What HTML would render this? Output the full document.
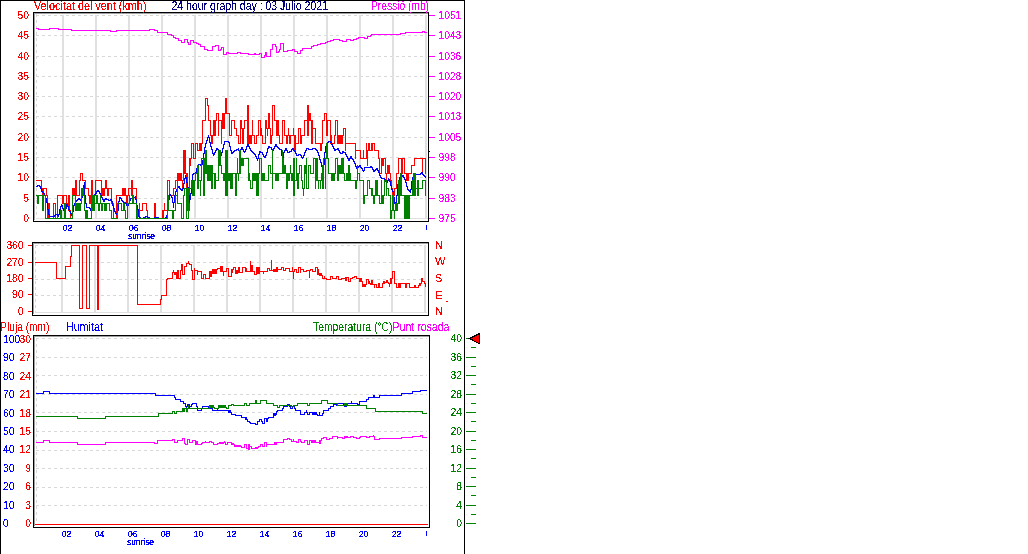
<!DOCTYPE html>
<html><head><meta charset="utf-8"><style>
html,body{margin:0;padding:0;background:#fff;}
svg{display:block;}
text{font-family:"Liberation Sans",sans-serif;}
</style></head><body>
<svg width="1028" height="554" viewBox="0 0 1028 554" shape-rendering="crispEdges">
<defs><filter id="crisp" x="0" y="0" width="1" height="1" color-interpolation-filters="sRGB"><feComponentTransfer><feFuncA type="discrete" tableValues="0 1"/></feComponentTransfer></filter></defs>
<rect x="0" y="0" width="1028" height="554" fill="#fff"/>
<rect x="0" y="0" width="465" height="1" fill="#000000"/>
<rect x="0" y="0" width="1" height="554" fill="#000000"/>
<rect x="464" y="0" width="1" height="554" fill="#000000"/>
<line x1="36" y1="15.5" x2="427" y2="15.5" stroke="#d8d8d8" stroke-width="1" stroke-dasharray="3 3"/>
<line x1="36" y1="35.5" x2="427" y2="35.5" stroke="#d8d8d8" stroke-width="1" stroke-dasharray="3 3"/>
<line x1="36" y1="56.5" x2="427" y2="56.5" stroke="#d8d8d8" stroke-width="1" stroke-dasharray="3 3"/>
<line x1="36" y1="76.5" x2="427" y2="76.5" stroke="#d8d8d8" stroke-width="1" stroke-dasharray="3 3"/>
<line x1="36" y1="96.5" x2="427" y2="96.5" stroke="#d8d8d8" stroke-width="1" stroke-dasharray="3 3"/>
<line x1="36" y1="116.5" x2="427" y2="116.5" stroke="#d8d8d8" stroke-width="1" stroke-dasharray="3 3"/>
<line x1="36" y1="137.5" x2="427" y2="137.5" stroke="#d8d8d8" stroke-width="1" stroke-dasharray="3 3"/>
<line x1="36" y1="157.5" x2="427" y2="157.5" stroke="#d8d8d8" stroke-width="1" stroke-dasharray="3 3"/>
<line x1="36" y1="177.5" x2="427" y2="177.5" stroke="#d8d8d8" stroke-width="1" stroke-dasharray="3 3"/>
<line x1="36" y1="198.5" x2="427" y2="198.5" stroke="#d8d8d8" stroke-width="1" stroke-dasharray="3 3"/>
<rect x="36" y="218" width="392" height="1" fill="#e0e0e0"/>
<line x1="36.5" y1="14" x2="36.5" y2="218" stroke="#d8d8d8" stroke-width="1" stroke-dasharray="3 3"/>
<rect x="62" y="15" width="2" height="203" fill="#e0e0e0"/>
<rect x="95" y="15" width="2" height="203" fill="#e0e0e0"/>
<rect x="128" y="15" width="2" height="203" fill="#e0e0e0"/>
<rect x="161" y="15" width="2" height="203" fill="#e0e0e0"/>
<rect x="194" y="15" width="2" height="203" fill="#e0e0e0"/>
<rect x="227" y="15" width="2" height="203" fill="#e0e0e0"/>
<rect x="260" y="15" width="2" height="203" fill="#e0e0e0"/>
<rect x="293" y="15" width="2" height="203" fill="#e0e0e0"/>
<rect x="326" y="15" width="2" height="203" fill="#e0e0e0"/>
<rect x="359" y="15" width="2" height="203" fill="#e0e0e0"/>
<rect x="392" y="15" width="2" height="203" fill="#e0e0e0"/>
<rect x="425" y="15" width="2" height="203" fill="#e0e0e0"/>
<rect x="36" y="28" width="1" height="1" fill="#ff00ff"/>
<rect x="37" y="28" width="1" height="1" fill="#ff00ff"/>
<rect x="38" y="28" width="1" height="2" fill="#ff00ff"/>
<rect x="39" y="29" width="1" height="1" fill="#ff00ff"/>
<rect x="40" y="29" width="1" height="1" fill="#ff00ff"/>
<rect x="41" y="29" width="1" height="1" fill="#ff00ff"/>
<rect x="42" y="29" width="1" height="1" fill="#ff00ff"/>
<rect x="43" y="29" width="1" height="1" fill="#ff00ff"/>
<rect x="44" y="29" width="1" height="1" fill="#ff00ff"/>
<rect x="45" y="29" width="1" height="1" fill="#ff00ff"/>
<rect x="46" y="29" width="1" height="1" fill="#ff00ff"/>
<rect x="47" y="29" width="1" height="1" fill="#ff00ff"/>
<rect x="48" y="29" width="1" height="1" fill="#ff00ff"/>
<rect x="49" y="28" width="1" height="2" fill="#ff00ff"/>
<rect x="50" y="28" width="1" height="1" fill="#ff00ff"/>
<rect x="51" y="28" width="1" height="1" fill="#ff00ff"/>
<rect x="52" y="28" width="1" height="1" fill="#ff00ff"/>
<rect x="53" y="28" width="1" height="1" fill="#ff00ff"/>
<rect x="54" y="28" width="1" height="1" fill="#ff00ff"/>
<rect x="55" y="28" width="1" height="1" fill="#ff00ff"/>
<rect x="56" y="28" width="1" height="1" fill="#ff00ff"/>
<rect x="57" y="28" width="1" height="1" fill="#ff00ff"/>
<rect x="58" y="28" width="1" height="2" fill="#ff00ff"/>
<rect x="59" y="29" width="1" height="1" fill="#ff00ff"/>
<rect x="60" y="29" width="1" height="1" fill="#ff00ff"/>
<rect x="61" y="29" width="1" height="1" fill="#ff00ff"/>
<rect x="62" y="29" width="1" height="1" fill="#ff00ff"/>
<rect x="63" y="29" width="1" height="1" fill="#ff00ff"/>
<rect x="64" y="29" width="1" height="1" fill="#ff00ff"/>
<rect x="65" y="29" width="1" height="1" fill="#ff00ff"/>
<rect x="66" y="29" width="1" height="1" fill="#ff00ff"/>
<rect x="67" y="29" width="1" height="1" fill="#ff00ff"/>
<rect x="68" y="29" width="1" height="1" fill="#ff00ff"/>
<rect x="69" y="29" width="1" height="1" fill="#ff00ff"/>
<rect x="70" y="29" width="1" height="1" fill="#ff00ff"/>
<rect x="71" y="29" width="1" height="2" fill="#ff00ff"/>
<rect x="72" y="30" width="1" height="1" fill="#ff00ff"/>
<rect x="73" y="30" width="1" height="1" fill="#ff00ff"/>
<rect x="74" y="30" width="1" height="1" fill="#ff00ff"/>
<rect x="75" y="30" width="1" height="1" fill="#ff00ff"/>
<rect x="76" y="30" width="1" height="1" fill="#ff00ff"/>
<rect x="77" y="30" width="1" height="1" fill="#ff00ff"/>
<rect x="78" y="30" width="1" height="1" fill="#ff00ff"/>
<rect x="79" y="30" width="1" height="1" fill="#ff00ff"/>
<rect x="80" y="30" width="1" height="1" fill="#ff00ff"/>
<rect x="81" y="30" width="1" height="1" fill="#ff00ff"/>
<rect x="82" y="30" width="1" height="1" fill="#ff00ff"/>
<rect x="83" y="30" width="1" height="1" fill="#ff00ff"/>
<rect x="84" y="30" width="1" height="1" fill="#ff00ff"/>
<rect x="85" y="30" width="1" height="1" fill="#ff00ff"/>
<rect x="86" y="30" width="1" height="1" fill="#ff00ff"/>
<rect x="87" y="30" width="1" height="1" fill="#ff00ff"/>
<rect x="88" y="30" width="1" height="1" fill="#ff00ff"/>
<rect x="89" y="30" width="1" height="1" fill="#ff00ff"/>
<rect x="90" y="30" width="1" height="1" fill="#ff00ff"/>
<rect x="91" y="30" width="1" height="1" fill="#ff00ff"/>
<rect x="92" y="30" width="1" height="1" fill="#ff00ff"/>
<rect x="93" y="30" width="1" height="1" fill="#ff00ff"/>
<rect x="94" y="30" width="1" height="1" fill="#ff00ff"/>
<rect x="95" y="30" width="1" height="1" fill="#ff00ff"/>
<rect x="96" y="30" width="1" height="1" fill="#ff00ff"/>
<rect x="97" y="30" width="1" height="1" fill="#ff00ff"/>
<rect x="98" y="30" width="1" height="1" fill="#ff00ff"/>
<rect x="99" y="30" width="1" height="1" fill="#ff00ff"/>
<rect x="100" y="30" width="1" height="1" fill="#ff00ff"/>
<rect x="101" y="30" width="1" height="1" fill="#ff00ff"/>
<rect x="102" y="30" width="1" height="1" fill="#ff00ff"/>
<rect x="103" y="30" width="1" height="1" fill="#ff00ff"/>
<rect x="104" y="30" width="1" height="1" fill="#ff00ff"/>
<rect x="105" y="30" width="1" height="1" fill="#ff00ff"/>
<rect x="106" y="30" width="1" height="1" fill="#ff00ff"/>
<rect x="107" y="30" width="1" height="1" fill="#ff00ff"/>
<rect x="108" y="30" width="1" height="1" fill="#ff00ff"/>
<rect x="109" y="30" width="1" height="1" fill="#ff00ff"/>
<rect x="110" y="30" width="1" height="2" fill="#ff00ff"/>
<rect x="111" y="31" width="1" height="1" fill="#ff00ff"/>
<rect x="112" y="31" width="1" height="1" fill="#ff00ff"/>
<rect x="113" y="31" width="1" height="1" fill="#ff00ff"/>
<rect x="114" y="31" width="1" height="1" fill="#ff00ff"/>
<rect x="115" y="31" width="1" height="1" fill="#ff00ff"/>
<rect x="116" y="30" width="1" height="2" fill="#ff00ff"/>
<rect x="117" y="30" width="1" height="1" fill="#ff00ff"/>
<rect x="118" y="30" width="1" height="1" fill="#ff00ff"/>
<rect x="119" y="30" width="1" height="1" fill="#ff00ff"/>
<rect x="120" y="30" width="1" height="1" fill="#ff00ff"/>
<rect x="121" y="30" width="1" height="1" fill="#ff00ff"/>
<rect x="122" y="30" width="1" height="1" fill="#ff00ff"/>
<rect x="123" y="30" width="1" height="1" fill="#ff00ff"/>
<rect x="124" y="30" width="1" height="1" fill="#ff00ff"/>
<rect x="125" y="30" width="1" height="1" fill="#ff00ff"/>
<rect x="126" y="30" width="1" height="1" fill="#ff00ff"/>
<rect x="127" y="30" width="1" height="1" fill="#ff00ff"/>
<rect x="128" y="30" width="1" height="1" fill="#ff00ff"/>
<rect x="129" y="30" width="1" height="1" fill="#ff00ff"/>
<rect x="130" y="30" width="1" height="1" fill="#ff00ff"/>
<rect x="131" y="30" width="1" height="1" fill="#ff00ff"/>
<rect x="132" y="30" width="1" height="1" fill="#ff00ff"/>
<rect x="133" y="30" width="1" height="1" fill="#ff00ff"/>
<rect x="134" y="30" width="1" height="1" fill="#ff00ff"/>
<rect x="135" y="30" width="1" height="1" fill="#ff00ff"/>
<rect x="136" y="30" width="1" height="1" fill="#ff00ff"/>
<rect x="137" y="30" width="1" height="1" fill="#ff00ff"/>
<rect x="138" y="30" width="1" height="1" fill="#ff00ff"/>
<rect x="139" y="30" width="1" height="1" fill="#ff00ff"/>
<rect x="140" y="30" width="1" height="1" fill="#ff00ff"/>
<rect x="141" y="30" width="1" height="1" fill="#ff00ff"/>
<rect x="142" y="30" width="1" height="1" fill="#ff00ff"/>
<rect x="143" y="30" width="1" height="1" fill="#ff00ff"/>
<rect x="144" y="30" width="1" height="1" fill="#ff00ff"/>
<rect x="145" y="30" width="1" height="1" fill="#ff00ff"/>
<rect x="146" y="30" width="1" height="1" fill="#ff00ff"/>
<rect x="147" y="30" width="1" height="1" fill="#ff00ff"/>
<rect x="148" y="30" width="1" height="1" fill="#ff00ff"/>
<rect x="149" y="29" width="1" height="2" fill="#ff00ff"/>
<rect x="150" y="29" width="1" height="1" fill="#ff00ff"/>
<rect x="151" y="29" width="1" height="1" fill="#ff00ff"/>
<rect x="152" y="29" width="1" height="1" fill="#ff00ff"/>
<rect x="153" y="29" width="1" height="1" fill="#ff00ff"/>
<rect x="154" y="29" width="1" height="2" fill="#ff00ff"/>
<rect x="155" y="30" width="1" height="1" fill="#ff00ff"/>
<rect x="156" y="30" width="1" height="1" fill="#ff00ff"/>
<rect x="157" y="30" width="1" height="3" fill="#ff00ff"/>
<rect x="158" y="32" width="1" height="1" fill="#ff00ff"/>
<rect x="159" y="32" width="1" height="1" fill="#ff00ff"/>
<rect x="160" y="32" width="1" height="1" fill="#ff00ff"/>
<rect x="161" y="32" width="1" height="1" fill="#ff00ff"/>
<rect x="162" y="32" width="1" height="1" fill="#ff00ff"/>
<rect x="163" y="32" width="1" height="1" fill="#ff00ff"/>
<rect x="164" y="32" width="1" height="1" fill="#ff00ff"/>
<rect x="165" y="32" width="1" height="1" fill="#ff00ff"/>
<rect x="166" y="32" width="1" height="1" fill="#ff00ff"/>
<rect x="167" y="32" width="1" height="3" fill="#ff00ff"/>
<rect x="168" y="34" width="1" height="1" fill="#ff00ff"/>
<rect x="169" y="34" width="1" height="1" fill="#ff00ff"/>
<rect x="170" y="34" width="1" height="1" fill="#ff00ff"/>
<rect x="171" y="34" width="1" height="2" fill="#ff00ff"/>
<rect x="172" y="35" width="1" height="1" fill="#ff00ff"/>
<rect x="173" y="35" width="1" height="3" fill="#ff00ff"/>
<rect x="174" y="37" width="1" height="1" fill="#ff00ff"/>
<rect x="175" y="37" width="1" height="2" fill="#ff00ff"/>
<rect x="176" y="38" width="1" height="1" fill="#ff00ff"/>
<rect x="177" y="38" width="1" height="1" fill="#ff00ff"/>
<rect x="178" y="38" width="1" height="3" fill="#ff00ff"/>
<rect x="179" y="40" width="1" height="1" fill="#ff00ff"/>
<rect x="180" y="40" width="1" height="1" fill="#ff00ff"/>
<rect x="181" y="40" width="1" height="3" fill="#ff00ff"/>
<rect x="182" y="42" width="1" height="1" fill="#ff00ff"/>
<rect x="183" y="42" width="1" height="1" fill="#ff00ff"/>
<rect x="184" y="39" width="1" height="4" fill="#ff00ff"/>
<rect x="185" y="39" width="1" height="1" fill="#ff00ff"/>
<rect x="186" y="39" width="1" height="1" fill="#ff00ff"/>
<rect x="187" y="39" width="1" height="4" fill="#ff00ff"/>
<rect x="188" y="42" width="1" height="3" fill="#ff00ff"/>
<rect x="189" y="44" width="1" height="1" fill="#ff00ff"/>
<rect x="190" y="40" width="1" height="5" fill="#ff00ff"/>
<rect x="191" y="40" width="1" height="1" fill="#ff00ff"/>
<rect x="192" y="40" width="1" height="1" fill="#ff00ff"/>
<rect x="193" y="40" width="1" height="3" fill="#ff00ff"/>
<rect x="194" y="42" width="1" height="1" fill="#ff00ff"/>
<rect x="195" y="42" width="1" height="1" fill="#ff00ff"/>
<rect x="196" y="42" width="1" height="2" fill="#ff00ff"/>
<rect x="197" y="43" width="1" height="1" fill="#ff00ff"/>
<rect x="198" y="43" width="1" height="2" fill="#ff00ff"/>
<rect x="199" y="44" width="1" height="1" fill="#ff00ff"/>
<rect x="200" y="44" width="1" height="3" fill="#ff00ff"/>
<rect x="201" y="46" width="1" height="1" fill="#ff00ff"/>
<rect x="202" y="46" width="1" height="1" fill="#ff00ff"/>
<rect x="203" y="46" width="1" height="1" fill="#ff00ff"/>
<rect x="204" y="46" width="1" height="4" fill="#ff00ff"/>
<rect x="205" y="49" width="1" height="1" fill="#ff00ff"/>
<rect x="206" y="49" width="1" height="1" fill="#ff00ff"/>
<rect x="207" y="49" width="1" height="2" fill="#ff00ff"/>
<rect x="208" y="50" width="1" height="1" fill="#ff00ff"/>
<rect x="209" y="50" width="1" height="1" fill="#ff00ff"/>
<rect x="210" y="50" width="1" height="1" fill="#ff00ff"/>
<rect x="211" y="50" width="1" height="1" fill="#ff00ff"/>
<rect x="212" y="46" width="1" height="5" fill="#ff00ff"/>
<rect x="213" y="46" width="1" height="1" fill="#ff00ff"/>
<rect x="214" y="46" width="1" height="1" fill="#ff00ff"/>
<rect x="215" y="45" width="1" height="2" fill="#ff00ff"/>
<rect x="216" y="45" width="1" height="1" fill="#ff00ff"/>
<rect x="217" y="45" width="1" height="1" fill="#ff00ff"/>
<rect x="218" y="45" width="1" height="6" fill="#ff00ff"/>
<rect x="219" y="50" width="1" height="1" fill="#ff00ff"/>
<rect x="220" y="49" width="1" height="2" fill="#ff00ff"/>
<rect x="221" y="47" width="1" height="3" fill="#ff00ff"/>
<rect x="222" y="47" width="1" height="1" fill="#ff00ff"/>
<rect x="223" y="47" width="1" height="8" fill="#ff00ff"/>
<rect x="224" y="54" width="1" height="1" fill="#ff00ff"/>
<rect x="225" y="54" width="1" height="1" fill="#ff00ff"/>
<rect x="226" y="52" width="1" height="3" fill="#ff00ff"/>
<rect x="227" y="52" width="1" height="1" fill="#ff00ff"/>
<rect x="228" y="52" width="1" height="2" fill="#ff00ff"/>
<rect x="229" y="53" width="1" height="1" fill="#ff00ff"/>
<rect x="230" y="53" width="1" height="1" fill="#ff00ff"/>
<rect x="231" y="53" width="1" height="1" fill="#ff00ff"/>
<rect x="232" y="53" width="1" height="1" fill="#ff00ff"/>
<rect x="233" y="53" width="1" height="1" fill="#ff00ff"/>
<rect x="234" y="53" width="1" height="1" fill="#ff00ff"/>
<rect x="235" y="53" width="1" height="1" fill="#ff00ff"/>
<rect x="236" y="53" width="1" height="1" fill="#ff00ff"/>
<rect x="237" y="52" width="1" height="2" fill="#ff00ff"/>
<rect x="238" y="52" width="1" height="1" fill="#ff00ff"/>
<rect x="239" y="52" width="1" height="1" fill="#ff00ff"/>
<rect x="240" y="52" width="1" height="2" fill="#ff00ff"/>
<rect x="241" y="53" width="1" height="1" fill="#ff00ff"/>
<rect x="242" y="53" width="1" height="1" fill="#ff00ff"/>
<rect x="243" y="53" width="1" height="1" fill="#ff00ff"/>
<rect x="244" y="53" width="1" height="1" fill="#ff00ff"/>
<rect x="245" y="53" width="1" height="1" fill="#ff00ff"/>
<rect x="246" y="53" width="1" height="1" fill="#ff00ff"/>
<rect x="247" y="53" width="1" height="1" fill="#ff00ff"/>
<rect x="248" y="53" width="1" height="2" fill="#ff00ff"/>
<rect x="249" y="54" width="1" height="1" fill="#ff00ff"/>
<rect x="250" y="54" width="1" height="1" fill="#ff00ff"/>
<rect x="251" y="54" width="1" height="1" fill="#ff00ff"/>
<rect x="252" y="54" width="1" height="1" fill="#ff00ff"/>
<rect x="253" y="54" width="1" height="1" fill="#ff00ff"/>
<rect x="254" y="53" width="1" height="2" fill="#ff00ff"/>
<rect x="255" y="53" width="1" height="2" fill="#ff00ff"/>
<rect x="256" y="54" width="1" height="1" fill="#ff00ff"/>
<rect x="257" y="54" width="1" height="1" fill="#ff00ff"/>
<rect x="258" y="54" width="1" height="1" fill="#ff00ff"/>
<rect x="259" y="53" width="1" height="2" fill="#ff00ff"/>
<rect x="260" y="53" width="1" height="1" fill="#ff00ff"/>
<rect x="261" y="53" width="1" height="5" fill="#ff00ff"/>
<rect x="262" y="57" width="1" height="1" fill="#ff00ff"/>
<rect x="263" y="57" width="1" height="1" fill="#ff00ff"/>
<rect x="264" y="55" width="1" height="3" fill="#ff00ff"/>
<rect x="265" y="52" width="1" height="4" fill="#ff00ff"/>
<rect x="266" y="52" width="1" height="5" fill="#ff00ff"/>
<rect x="267" y="56" width="1" height="1" fill="#ff00ff"/>
<rect x="268" y="56" width="1" height="1" fill="#ff00ff"/>
<rect x="269" y="56" width="1" height="1" fill="#ff00ff"/>
<rect x="270" y="49" width="1" height="8" fill="#ff00ff"/>
<rect x="271" y="49" width="1" height="1" fill="#ff00ff"/>
<rect x="272" y="44" width="1" height="6" fill="#ff00ff"/>
<rect x="273" y="44" width="1" height="1" fill="#ff00ff"/>
<rect x="274" y="44" width="1" height="1" fill="#ff00ff"/>
<rect x="275" y="44" width="1" height="3" fill="#ff00ff"/>
<rect x="276" y="46" width="1" height="7" fill="#ff00ff"/>
<rect x="277" y="52" width="1" height="1" fill="#ff00ff"/>
<rect x="278" y="51" width="1" height="2" fill="#ff00ff"/>
<rect x="279" y="49" width="1" height="3" fill="#ff00ff"/>
<rect x="280" y="43" width="1" height="7" fill="#ff00ff"/>
<rect x="281" y="43" width="1" height="1" fill="#ff00ff"/>
<rect x="282" y="43" width="1" height="1" fill="#ff00ff"/>
<rect x="283" y="43" width="1" height="9" fill="#ff00ff"/>
<rect x="284" y="51" width="1" height="1" fill="#ff00ff"/>
<rect x="285" y="51" width="1" height="1" fill="#ff00ff"/>
<rect x="286" y="51" width="1" height="1" fill="#ff00ff"/>
<rect x="287" y="50" width="1" height="2" fill="#ff00ff"/>
<rect x="288" y="50" width="1" height="1" fill="#ff00ff"/>
<rect x="289" y="50" width="1" height="1" fill="#ff00ff"/>
<rect x="290" y="50" width="1" height="1" fill="#ff00ff"/>
<rect x="291" y="50" width="1" height="1" fill="#ff00ff"/>
<rect x="292" y="49" width="1" height="2" fill="#ff00ff"/>
<rect x="293" y="49" width="1" height="1" fill="#ff00ff"/>
<rect x="294" y="49" width="1" height="3" fill="#ff00ff"/>
<rect x="295" y="51" width="1" height="1" fill="#ff00ff"/>
<rect x="296" y="51" width="1" height="1" fill="#ff00ff"/>
<rect x="297" y="51" width="1" height="3" fill="#ff00ff"/>
<rect x="298" y="53" width="1" height="1" fill="#ff00ff"/>
<rect x="299" y="53" width="1" height="1" fill="#ff00ff"/>
<rect x="300" y="50" width="1" height="4" fill="#ff00ff"/>
<rect x="301" y="50" width="1" height="1" fill="#ff00ff"/>
<rect x="302" y="48" width="1" height="3" fill="#ff00ff"/>
<rect x="303" y="48" width="1" height="1" fill="#ff00ff"/>
<rect x="304" y="48" width="1" height="1" fill="#ff00ff"/>
<rect x="305" y="48" width="1" height="1" fill="#ff00ff"/>
<rect x="306" y="48" width="1" height="1" fill="#ff00ff"/>
<rect x="307" y="48" width="1" height="1" fill="#ff00ff"/>
<rect x="308" y="48" width="1" height="1" fill="#ff00ff"/>
<rect x="309" y="48" width="1" height="1" fill="#ff00ff"/>
<rect x="310" y="48" width="1" height="1" fill="#ff00ff"/>
<rect x="311" y="46" width="1" height="3" fill="#ff00ff"/>
<rect x="312" y="46" width="1" height="1" fill="#ff00ff"/>
<rect x="313" y="45" width="1" height="2" fill="#ff00ff"/>
<rect x="314" y="45" width="1" height="1" fill="#ff00ff"/>
<rect x="315" y="45" width="1" height="1" fill="#ff00ff"/>
<rect x="316" y="45" width="1" height="1" fill="#ff00ff"/>
<rect x="317" y="44" width="1" height="2" fill="#ff00ff"/>
<rect x="318" y="44" width="1" height="1" fill="#ff00ff"/>
<rect x="319" y="44" width="1" height="1" fill="#ff00ff"/>
<rect x="320" y="43" width="1" height="2" fill="#ff00ff"/>
<rect x="321" y="43" width="1" height="1" fill="#ff00ff"/>
<rect x="322" y="43" width="1" height="1" fill="#ff00ff"/>
<rect x="323" y="43" width="1" height="1" fill="#ff00ff"/>
<rect x="324" y="43" width="1" height="1" fill="#ff00ff"/>
<rect x="325" y="42" width="1" height="2" fill="#ff00ff"/>
<rect x="326" y="42" width="1" height="1" fill="#ff00ff"/>
<rect x="327" y="41" width="1" height="2" fill="#ff00ff"/>
<rect x="328" y="41" width="1" height="1" fill="#ff00ff"/>
<rect x="329" y="41" width="1" height="1" fill="#ff00ff"/>
<rect x="330" y="40" width="1" height="2" fill="#ff00ff"/>
<rect x="331" y="40" width="1" height="1" fill="#ff00ff"/>
<rect x="332" y="40" width="1" height="1" fill="#ff00ff"/>
<rect x="333" y="39" width="1" height="2" fill="#ff00ff"/>
<rect x="334" y="39" width="1" height="1" fill="#ff00ff"/>
<rect x="335" y="39" width="1" height="1" fill="#ff00ff"/>
<rect x="336" y="39" width="1" height="1" fill="#ff00ff"/>
<rect x="337" y="39" width="1" height="1" fill="#ff00ff"/>
<rect x="338" y="39" width="1" height="1" fill="#ff00ff"/>
<rect x="339" y="39" width="1" height="2" fill="#ff00ff"/>
<rect x="340" y="40" width="1" height="1" fill="#ff00ff"/>
<rect x="341" y="40" width="1" height="1" fill="#ff00ff"/>
<rect x="342" y="40" width="1" height="2" fill="#ff00ff"/>
<rect x="343" y="41" width="1" height="1" fill="#ff00ff"/>
<rect x="344" y="41" width="1" height="1" fill="#ff00ff"/>
<rect x="345" y="41" width="1" height="1" fill="#ff00ff"/>
<rect x="346" y="39" width="1" height="3" fill="#ff00ff"/>
<rect x="347" y="39" width="1" height="1" fill="#ff00ff"/>
<rect x="348" y="39" width="1" height="1" fill="#ff00ff"/>
<rect x="349" y="39" width="1" height="1" fill="#ff00ff"/>
<rect x="350" y="39" width="1" height="2" fill="#ff00ff"/>
<rect x="351" y="40" width="1" height="1" fill="#ff00ff"/>
<rect x="352" y="40" width="1" height="1" fill="#ff00ff"/>
<rect x="353" y="39" width="1" height="2" fill="#ff00ff"/>
<rect x="354" y="39" width="1" height="1" fill="#ff00ff"/>
<rect x="355" y="39" width="1" height="1" fill="#ff00ff"/>
<rect x="356" y="38" width="1" height="2" fill="#ff00ff"/>
<rect x="357" y="38" width="1" height="1" fill="#ff00ff"/>
<rect x="358" y="37" width="1" height="2" fill="#ff00ff"/>
<rect x="359" y="37" width="1" height="1" fill="#ff00ff"/>
<rect x="360" y="37" width="1" height="1" fill="#ff00ff"/>
<rect x="361" y="37" width="1" height="1" fill="#ff00ff"/>
<rect x="362" y="37" width="1" height="1" fill="#ff00ff"/>
<rect x="363" y="37" width="1" height="1" fill="#ff00ff"/>
<rect x="364" y="37" width="1" height="2" fill="#ff00ff"/>
<rect x="365" y="38" width="1" height="1" fill="#ff00ff"/>
<rect x="366" y="38" width="1" height="1" fill="#ff00ff"/>
<rect x="367" y="36" width="1" height="3" fill="#ff00ff"/>
<rect x="368" y="36" width="1" height="1" fill="#ff00ff"/>
<rect x="369" y="36" width="1" height="1" fill="#ff00ff"/>
<rect x="370" y="35" width="1" height="2" fill="#ff00ff"/>
<rect x="371" y="34" width="1" height="2" fill="#ff00ff"/>
<rect x="372" y="34" width="1" height="1" fill="#ff00ff"/>
<rect x="373" y="34" width="1" height="1" fill="#ff00ff"/>
<rect x="374" y="34" width="1" height="1" fill="#ff00ff"/>
<rect x="375" y="34" width="1" height="1" fill="#ff00ff"/>
<rect x="376" y="34" width="1" height="1" fill="#ff00ff"/>
<rect x="377" y="34" width="1" height="1" fill="#ff00ff"/>
<rect x="378" y="34" width="1" height="1" fill="#ff00ff"/>
<rect x="379" y="34" width="1" height="1" fill="#ff00ff"/>
<rect x="380" y="34" width="1" height="1" fill="#ff00ff"/>
<rect x="381" y="34" width="1" height="1" fill="#ff00ff"/>
<rect x="382" y="34" width="1" height="1" fill="#ff00ff"/>
<rect x="383" y="34" width="1" height="1" fill="#ff00ff"/>
<rect x="384" y="34" width="1" height="1" fill="#ff00ff"/>
<rect x="385" y="34" width="1" height="1" fill="#ff00ff"/>
<rect x="386" y="34" width="1" height="1" fill="#ff00ff"/>
<rect x="387" y="34" width="1" height="1" fill="#ff00ff"/>
<rect x="388" y="34" width="1" height="1" fill="#ff00ff"/>
<rect x="389" y="34" width="1" height="1" fill="#ff00ff"/>
<rect x="390" y="34" width="1" height="1" fill="#ff00ff"/>
<rect x="391" y="34" width="1" height="1" fill="#ff00ff"/>
<rect x="392" y="34" width="1" height="1" fill="#ff00ff"/>
<rect x="393" y="34" width="1" height="1" fill="#ff00ff"/>
<rect x="394" y="34" width="1" height="1" fill="#ff00ff"/>
<rect x="395" y="34" width="1" height="1" fill="#ff00ff"/>
<rect x="396" y="34" width="1" height="1" fill="#ff00ff"/>
<rect x="397" y="34" width="1" height="1" fill="#ff00ff"/>
<rect x="398" y="34" width="1" height="1" fill="#ff00ff"/>
<rect x="399" y="34" width="1" height="1" fill="#ff00ff"/>
<rect x="400" y="33" width="1" height="2" fill="#ff00ff"/>
<rect x="401" y="33" width="1" height="1" fill="#ff00ff"/>
<rect x="402" y="33" width="1" height="1" fill="#ff00ff"/>
<rect x="403" y="33" width="1" height="1" fill="#ff00ff"/>
<rect x="404" y="33" width="1" height="1" fill="#ff00ff"/>
<rect x="405" y="32" width="1" height="2" fill="#ff00ff"/>
<rect x="406" y="32" width="1" height="1" fill="#ff00ff"/>
<rect x="407" y="32" width="1" height="1" fill="#ff00ff"/>
<rect x="408" y="32" width="1" height="1" fill="#ff00ff"/>
<rect x="409" y="32" width="1" height="1" fill="#ff00ff"/>
<rect x="410" y="32" width="1" height="1" fill="#ff00ff"/>
<rect x="411" y="32" width="1" height="1" fill="#ff00ff"/>
<rect x="412" y="32" width="1" height="1" fill="#ff00ff"/>
<rect x="413" y="32" width="1" height="1" fill="#ff00ff"/>
<rect x="414" y="32" width="1" height="1" fill="#ff00ff"/>
<rect x="415" y="32" width="1" height="1" fill="#ff00ff"/>
<rect x="416" y="32" width="1" height="1" fill="#ff00ff"/>
<rect x="417" y="32" width="1" height="1" fill="#ff00ff"/>
<rect x="418" y="32" width="1" height="1" fill="#ff00ff"/>
<rect x="419" y="32" width="1" height="1" fill="#ff00ff"/>
<rect x="420" y="32" width="1" height="1" fill="#ff00ff"/>
<rect x="421" y="32" width="1" height="1" fill="#ff00ff"/>
<rect x="422" y="31" width="1" height="2" fill="#ff00ff"/>
<rect x="423" y="31" width="1" height="1" fill="#ff00ff"/>
<rect x="424" y="31" width="1" height="2" fill="#ff00ff"/>
<rect x="425" y="32" width="1" height="1" fill="#ff00ff"/>
<rect x="426" y="32" width="1" height="1" fill="#ff00ff"/>
<rect x="36" y="180" width="5" height="1" fill="#ff0000"/>
<rect x="41" y="180" width="1" height="9" fill="#ff0000"/>
<rect x="42" y="188" width="2" height="8" fill="#ff0000"/>
<rect x="44" y="188" width="2" height="1" fill="#ff0000"/>
<rect x="46" y="188" width="1" height="8" fill="#ff0000"/>
<rect x="47" y="195" width="1" height="24" fill="#ff0000"/>
<rect x="48" y="203" width="2" height="16" fill="#ff0000"/>
<rect x="50" y="218" width="3" height="1" fill="#ff0000"/>
<rect x="53" y="203" width="1" height="16" fill="#ff0000"/>
<rect x="54" y="203" width="1" height="1" fill="#ff0000"/>
<rect x="55" y="203" width="1" height="16" fill="#ff0000"/>
<rect x="56" y="218" width="1" height="1" fill="#ff0000"/>
<rect x="57" y="195" width="1" height="24" fill="#ff0000"/>
<rect x="58" y="195" width="4" height="1" fill="#ff0000"/>
<rect x="62" y="195" width="2" height="9" fill="#ff0000"/>
<rect x="64" y="195" width="2" height="1" fill="#ff0000"/>
<rect x="66" y="195" width="1" height="9" fill="#ff0000"/>
<rect x="67" y="203" width="1" height="1" fill="#ff0000"/>
<rect x="68" y="195" width="2" height="16" fill="#ff0000"/>
<rect x="70" y="210" width="1" height="9" fill="#ff0000"/>
<rect x="71" y="218" width="1" height="1" fill="#ff0000"/>
<rect x="72" y="188" width="1" height="31" fill="#ff0000"/>
<rect x="73" y="188" width="2" height="8" fill="#ff0000"/>
<rect x="75" y="180" width="2" height="16" fill="#ff0000"/>
<rect x="77" y="195" width="2" height="1" fill="#ff0000"/>
<rect x="79" y="180" width="1" height="16" fill="#ff0000"/>
<rect x="80" y="173" width="1" height="8" fill="#ff0000"/>
<rect x="81" y="173" width="1" height="1" fill="#ff0000"/>
<rect x="82" y="173" width="1" height="8" fill="#ff0000"/>
<rect x="83" y="180" width="2" height="1" fill="#ff0000"/>
<rect x="85" y="180" width="1" height="9" fill="#ff0000"/>
<rect x="86" y="188" width="2" height="1" fill="#ff0000"/>
<rect x="88" y="188" width="1" height="8" fill="#ff0000"/>
<rect x="89" y="195" width="2" height="9" fill="#ff0000"/>
<rect x="91" y="180" width="2" height="16" fill="#ff0000"/>
<rect x="93" y="195" width="2" height="1" fill="#ff0000"/>
<rect x="95" y="180" width="1" height="16" fill="#ff0000"/>
<rect x="96" y="180" width="5" height="1" fill="#ff0000"/>
<rect x="101" y="180" width="1" height="16" fill="#ff0000"/>
<rect x="102" y="188" width="3" height="8" fill="#ff0000"/>
<rect x="105" y="180" width="2" height="9" fill="#ff0000"/>
<rect x="107" y="188" width="2" height="8" fill="#ff0000"/>
<rect x="109" y="188" width="2" height="1" fill="#ff0000"/>
<rect x="111" y="188" width="1" height="16" fill="#ff0000"/>
<rect x="112" y="203" width="1" height="1" fill="#ff0000"/>
<rect x="113" y="203" width="1" height="16" fill="#ff0000"/>
<rect x="114" y="218" width="2" height="1" fill="#ff0000"/>
<rect x="116" y="195" width="1" height="24" fill="#ff0000"/>
<rect x="117" y="195" width="5" height="1" fill="#ff0000"/>
<rect x="122" y="188" width="4" height="8" fill="#ff0000"/>
<rect x="126" y="195" width="2" height="9" fill="#ff0000"/>
<rect x="128" y="188" width="1" height="8" fill="#ff0000"/>
<rect x="129" y="188" width="2" height="1" fill="#ff0000"/>
<rect x="131" y="180" width="2" height="16" fill="#ff0000"/>
<rect x="133" y="188" width="3" height="1" fill="#ff0000"/>
<rect x="136" y="188" width="1" height="23" fill="#ff0000"/>
<rect x="137" y="210" width="1" height="9" fill="#ff0000"/>
<rect x="138" y="218" width="1" height="1" fill="#ff0000"/>
<rect x="139" y="203" width="1" height="16" fill="#ff0000"/>
<rect x="140" y="210" width="2" height="1" fill="#ff0000"/>
<rect x="142" y="203" width="1" height="8" fill="#ff0000"/>
<rect x="143" y="203" width="3" height="1" fill="#ff0000"/>
<rect x="146" y="203" width="1" height="8" fill="#ff0000"/>
<rect x="147" y="210" width="1" height="9" fill="#ff0000"/>
<rect x="148" y="218" width="6" height="1" fill="#ff0000"/>
<rect x="154" y="203" width="2" height="16" fill="#ff0000"/>
<rect x="156" y="218" width="6" height="1" fill="#ff0000"/>
<rect x="162" y="210" width="2" height="9" fill="#ff0000"/>
<rect x="164" y="203" width="1" height="8" fill="#ff0000"/>
<rect x="165" y="210" width="2" height="1" fill="#ff0000"/>
<rect x="167" y="180" width="1" height="31" fill="#ff0000"/>
<rect x="168" y="180" width="1" height="1" fill="#ff0000"/>
<rect x="169" y="180" width="1" height="16" fill="#ff0000"/>
<rect x="170" y="195" width="3" height="1" fill="#ff0000"/>
<rect x="173" y="188" width="1" height="8" fill="#ff0000"/>
<rect x="174" y="188" width="1" height="1" fill="#ff0000"/>
<rect x="175" y="180" width="1" height="9" fill="#ff0000"/>
<rect x="176" y="180" width="1" height="1" fill="#ff0000"/>
<rect x="177" y="173" width="5" height="8" fill="#ff0000"/>
<rect x="182" y="180" width="1" height="9" fill="#ff0000"/>
<rect x="183" y="150" width="1" height="31" fill="#ff0000"/>
<rect x="184" y="150" width="2" height="24" fill="#ff0000"/>
<rect x="186" y="173" width="2" height="38" fill="#ff0000"/>
<rect x="188" y="210" width="1" height="1" fill="#ff0000"/>
<rect x="189" y="158" width="1" height="53" fill="#ff0000"/>
<rect x="190" y="158" width="1" height="8" fill="#ff0000"/>
<rect x="191" y="143" width="1" height="16" fill="#ff0000"/>
<rect x="192" y="143" width="1" height="1" fill="#ff0000"/>
<rect x="193" y="143" width="1" height="16" fill="#ff0000"/>
<rect x="194" y="158" width="1" height="1" fill="#ff0000"/>
<rect x="195" y="143" width="1" height="16" fill="#ff0000"/>
<rect x="196" y="143" width="1" height="1" fill="#ff0000"/>
<rect x="197" y="143" width="1" height="8" fill="#ff0000"/>
<rect x="198" y="150" width="1" height="1" fill="#ff0000"/>
<rect x="199" y="143" width="3" height="8" fill="#ff0000"/>
<rect x="202" y="120" width="1" height="24" fill="#ff0000"/>
<rect x="203" y="120" width="2" height="1" fill="#ff0000"/>
<rect x="205" y="98" width="1" height="23" fill="#ff0000"/>
<rect x="206" y="98" width="1" height="1" fill="#ff0000"/>
<rect x="207" y="98" width="1" height="8" fill="#ff0000"/>
<rect x="208" y="105" width="1" height="16" fill="#ff0000"/>
<rect x="209" y="120" width="1" height="1" fill="#ff0000"/>
<rect x="210" y="120" width="1" height="16" fill="#ff0000"/>
<rect x="211" y="135" width="2" height="9" fill="#ff0000"/>
<rect x="213" y="120" width="3" height="16" fill="#ff0000"/>
<rect x="216" y="113" width="1" height="8" fill="#ff0000"/>
<rect x="217" y="113" width="1" height="1" fill="#ff0000"/>
<rect x="218" y="113" width="1" height="23" fill="#ff0000"/>
<rect x="219" y="120" width="2" height="1" fill="#ff0000"/>
<rect x="221" y="120" width="1" height="24" fill="#ff0000"/>
<rect x="222" y="113" width="3" height="16" fill="#ff0000"/>
<rect x="225" y="98" width="2" height="16" fill="#ff0000"/>
<rect x="227" y="113" width="2" height="1" fill="#ff0000"/>
<rect x="229" y="113" width="1" height="23" fill="#ff0000"/>
<rect x="230" y="135" width="1" height="1" fill="#ff0000"/>
<rect x="231" y="120" width="1" height="16" fill="#ff0000"/>
<rect x="232" y="120" width="2" height="1" fill="#ff0000"/>
<rect x="234" y="120" width="1" height="9" fill="#ff0000"/>
<rect x="235" y="128" width="1" height="1" fill="#ff0000"/>
<rect x="236" y="128" width="1" height="8" fill="#ff0000"/>
<rect x="237" y="135" width="1" height="1" fill="#ff0000"/>
<rect x="238" y="135" width="1" height="9" fill="#ff0000"/>
<rect x="239" y="143" width="1" height="1" fill="#ff0000"/>
<rect x="240" y="120" width="1" height="24" fill="#ff0000"/>
<rect x="241" y="120" width="1" height="9" fill="#ff0000"/>
<rect x="242" y="128" width="2" height="16" fill="#ff0000"/>
<rect x="244" y="120" width="1" height="9" fill="#ff0000"/>
<rect x="245" y="120" width="2" height="1" fill="#ff0000"/>
<rect x="247" y="105" width="2" height="39" fill="#ff0000"/>
<rect x="249" y="135" width="3" height="9" fill="#ff0000"/>
<rect x="252" y="120" width="1" height="16" fill="#ff0000"/>
<rect x="253" y="135" width="1" height="1" fill="#ff0000"/>
<rect x="254" y="135" width="1" height="9" fill="#ff0000"/>
<rect x="255" y="143" width="1" height="1" fill="#ff0000"/>
<rect x="256" y="135" width="1" height="9" fill="#ff0000"/>
<rect x="257" y="135" width="1" height="1" fill="#ff0000"/>
<rect x="258" y="120" width="1" height="16" fill="#ff0000"/>
<rect x="259" y="120" width="1" height="1" fill="#ff0000"/>
<rect x="260" y="120" width="1" height="16" fill="#ff0000"/>
<rect x="261" y="128" width="1" height="8" fill="#ff0000"/>
<rect x="262" y="135" width="1" height="9" fill="#ff0000"/>
<rect x="263" y="143" width="2" height="1" fill="#ff0000"/>
<rect x="265" y="120" width="1" height="24" fill="#ff0000"/>
<rect x="266" y="120" width="1" height="9" fill="#ff0000"/>
<rect x="267" y="128" width="1" height="8" fill="#ff0000"/>
<rect x="268" y="113" width="2" height="16" fill="#ff0000"/>
<rect x="270" y="128" width="1" height="16" fill="#ff0000"/>
<rect x="271" y="135" width="1" height="9" fill="#ff0000"/>
<rect x="272" y="105" width="1" height="31" fill="#ff0000"/>
<rect x="273" y="105" width="1" height="1" fill="#ff0000"/>
<rect x="274" y="105" width="1" height="16" fill="#ff0000"/>
<rect x="275" y="120" width="1" height="1" fill="#ff0000"/>
<rect x="276" y="120" width="3" height="16" fill="#ff0000"/>
<rect x="279" y="135" width="1" height="9" fill="#ff0000"/>
<rect x="280" y="143" width="2" height="1" fill="#ff0000"/>
<rect x="282" y="120" width="1" height="24" fill="#ff0000"/>
<rect x="283" y="120" width="1" height="1" fill="#ff0000"/>
<rect x="284" y="120" width="1" height="16" fill="#ff0000"/>
<rect x="285" y="135" width="1" height="1" fill="#ff0000"/>
<rect x="286" y="135" width="2" height="9" fill="#ff0000"/>
<rect x="288" y="128" width="1" height="8" fill="#ff0000"/>
<rect x="289" y="135" width="2" height="9" fill="#ff0000"/>
<rect x="291" y="135" width="2" height="1" fill="#ff0000"/>
<rect x="293" y="128" width="1" height="8" fill="#ff0000"/>
<rect x="294" y="135" width="2" height="16" fill="#ff0000"/>
<rect x="296" y="143" width="2" height="1" fill="#ff0000"/>
<rect x="298" y="128" width="1" height="16" fill="#ff0000"/>
<rect x="299" y="128" width="1" height="1" fill="#ff0000"/>
<rect x="300" y="128" width="1" height="16" fill="#ff0000"/>
<rect x="301" y="135" width="1" height="9" fill="#ff0000"/>
<rect x="302" y="135" width="2" height="1" fill="#ff0000"/>
<rect x="304" y="120" width="1" height="16" fill="#ff0000"/>
<rect x="305" y="120" width="2" height="1" fill="#ff0000"/>
<rect x="307" y="105" width="2" height="31" fill="#ff0000"/>
<rect x="309" y="113" width="2" height="8" fill="#ff0000"/>
<rect x="311" y="120" width="2" height="24" fill="#ff0000"/>
<rect x="313" y="128" width="2" height="1" fill="#ff0000"/>
<rect x="315" y="128" width="1" height="16" fill="#ff0000"/>
<rect x="316" y="143" width="4" height="1" fill="#ff0000"/>
<rect x="320" y="143" width="2" height="8" fill="#ff0000"/>
<rect x="322" y="120" width="1" height="24" fill="#ff0000"/>
<rect x="323" y="120" width="1" height="1" fill="#ff0000"/>
<rect x="324" y="113" width="1" height="8" fill="#ff0000"/>
<rect x="325" y="113" width="1" height="1" fill="#ff0000"/>
<rect x="326" y="113" width="1" height="23" fill="#ff0000"/>
<rect x="327" y="120" width="1" height="16" fill="#ff0000"/>
<rect x="328" y="120" width="2" height="1" fill="#ff0000"/>
<rect x="330" y="120" width="1" height="24" fill="#ff0000"/>
<rect x="331" y="135" width="1" height="9" fill="#ff0000"/>
<rect x="332" y="143" width="2" height="1" fill="#ff0000"/>
<rect x="334" y="135" width="1" height="9" fill="#ff0000"/>
<rect x="335" y="120" width="1" height="16" fill="#ff0000"/>
<rect x="336" y="120" width="1" height="1" fill="#ff0000"/>
<rect x="337" y="120" width="1" height="24" fill="#ff0000"/>
<rect x="338" y="135" width="5" height="9" fill="#ff0000"/>
<rect x="343" y="128" width="1" height="8" fill="#ff0000"/>
<rect x="344" y="128" width="1" height="1" fill="#ff0000"/>
<rect x="345" y="128" width="1" height="23" fill="#ff0000"/>
<rect x="346" y="143" width="9" height="1" fill="#ff0000"/>
<rect x="355" y="143" width="1" height="16" fill="#ff0000"/>
<rect x="356" y="150" width="4" height="1" fill="#ff0000"/>
<rect x="360" y="150" width="1" height="9" fill="#ff0000"/>
<rect x="361" y="158" width="2" height="1" fill="#ff0000"/>
<rect x="363" y="150" width="1" height="9" fill="#ff0000"/>
<rect x="364" y="158" width="2" height="1" fill="#ff0000"/>
<rect x="366" y="143" width="1" height="16" fill="#ff0000"/>
<rect x="367" y="150" width="1" height="16" fill="#ff0000"/>
<rect x="368" y="143" width="2" height="8" fill="#ff0000"/>
<rect x="370" y="150" width="1" height="1" fill="#ff0000"/>
<rect x="371" y="143" width="2" height="8" fill="#ff0000"/>
<rect x="373" y="143" width="1" height="1" fill="#ff0000"/>
<rect x="374" y="143" width="1" height="8" fill="#ff0000"/>
<rect x="375" y="150" width="3" height="1" fill="#ff0000"/>
<rect x="378" y="150" width="1" height="9" fill="#ff0000"/>
<rect x="379" y="158" width="1" height="16" fill="#ff0000"/>
<rect x="380" y="173" width="1" height="1" fill="#ff0000"/>
<rect x="381" y="158" width="1" height="16" fill="#ff0000"/>
<rect x="382" y="158" width="2" height="8" fill="#ff0000"/>
<rect x="384" y="158" width="1" height="1" fill="#ff0000"/>
<rect x="385" y="158" width="1" height="16" fill="#ff0000"/>
<rect x="386" y="173" width="1" height="8" fill="#ff0000"/>
<rect x="387" y="165" width="3" height="9" fill="#ff0000"/>
<rect x="390" y="173" width="1" height="8" fill="#ff0000"/>
<rect x="391" y="180" width="1" height="9" fill="#ff0000"/>
<rect x="392" y="188" width="1" height="8" fill="#ff0000"/>
<rect x="393" y="195" width="1" height="1" fill="#ff0000"/>
<rect x="394" y="188" width="1" height="8" fill="#ff0000"/>
<rect x="395" y="188" width="1" height="1" fill="#ff0000"/>
<rect x="396" y="173" width="1" height="16" fill="#ff0000"/>
<rect x="397" y="173" width="1" height="1" fill="#ff0000"/>
<rect x="398" y="158" width="1" height="16" fill="#ff0000"/>
<rect x="399" y="158" width="2" height="1" fill="#ff0000"/>
<rect x="401" y="158" width="2" height="16" fill="#ff0000"/>
<rect x="403" y="158" width="1" height="1" fill="#ff0000"/>
<rect x="404" y="158" width="1" height="16" fill="#ff0000"/>
<rect x="405" y="173" width="1" height="1" fill="#ff0000"/>
<rect x="406" y="173" width="3" height="8" fill="#ff0000"/>
<rect x="409" y="173" width="2" height="1" fill="#ff0000"/>
<rect x="411" y="165" width="1" height="9" fill="#ff0000"/>
<rect x="412" y="165" width="2" height="1" fill="#ff0000"/>
<rect x="414" y="158" width="1" height="8" fill="#ff0000"/>
<rect x="415" y="158" width="7" height="1" fill="#ff0000"/>
<rect x="422" y="158" width="1" height="16" fill="#ff0000"/>
<rect x="423" y="158" width="2" height="1" fill="#ff0000"/>
<rect x="425" y="158" width="1" height="16" fill="#ff0000"/>
<rect x="36" y="186" width="1" height="1" fill="#0000ff"/>
<rect x="37" y="185" width="1" height="2" fill="#0000ff"/>
<rect x="38" y="185" width="1" height="1" fill="#0000ff"/>
<rect x="39" y="185" width="1" height="2" fill="#0000ff"/>
<rect x="40" y="186" width="1" height="3" fill="#0000ff"/>
<rect x="41" y="188" width="1" height="4" fill="#0000ff"/>
<rect x="42" y="191" width="1" height="2" fill="#0000ff"/>
<rect x="43" y="192" width="1" height="2" fill="#0000ff"/>
<rect x="44" y="193" width="1" height="3" fill="#0000ff"/>
<rect x="45" y="195" width="1" height="4" fill="#0000ff"/>
<rect x="46" y="198" width="1" height="5" fill="#0000ff"/>
<rect x="47" y="202" width="1" height="8" fill="#0000ff"/>
<rect x="48" y="209" width="1" height="6" fill="#0000ff"/>
<rect x="49" y="214" width="1" height="3" fill="#0000ff"/>
<rect x="50" y="216" width="1" height="1" fill="#0000ff"/>
<rect x="51" y="216" width="1" height="1" fill="#0000ff"/>
<rect x="52" y="216" width="1" height="1" fill="#0000ff"/>
<rect x="53" y="216" width="1" height="1" fill="#0000ff"/>
<rect x="54" y="215" width="1" height="2" fill="#0000ff"/>
<rect x="55" y="214" width="1" height="2" fill="#0000ff"/>
<rect x="56" y="214" width="1" height="1" fill="#0000ff"/>
<rect x="57" y="214" width="1" height="2" fill="#0000ff"/>
<rect x="58" y="214" width="1" height="3" fill="#0000ff"/>
<rect x="59" y="209" width="1" height="6" fill="#0000ff"/>
<rect x="60" y="206" width="1" height="4" fill="#0000ff"/>
<rect x="61" y="204" width="1" height="3" fill="#0000ff"/>
<rect x="62" y="205" width="1" height="4" fill="#0000ff"/>
<rect x="63" y="208" width="1" height="3" fill="#0000ff"/>
<rect x="64" y="210" width="1" height="1" fill="#0000ff"/>
<rect x="65" y="208" width="1" height="3" fill="#0000ff"/>
<rect x="66" y="204" width="1" height="5" fill="#0000ff"/>
<rect x="67" y="204" width="1" height="3" fill="#0000ff"/>
<rect x="68" y="206" width="1" height="4" fill="#0000ff"/>
<rect x="69" y="209" width="1" height="3" fill="#0000ff"/>
<rect x="70" y="211" width="1" height="3" fill="#0000ff"/>
<rect x="71" y="213" width="1" height="3" fill="#0000ff"/>
<rect x="72" y="211" width="1" height="6" fill="#0000ff"/>
<rect x="73" y="205" width="1" height="7" fill="#0000ff"/>
<rect x="74" y="203" width="1" height="3" fill="#0000ff"/>
<rect x="75" y="201" width="1" height="3" fill="#0000ff"/>
<rect x="76" y="200" width="1" height="2" fill="#0000ff"/>
<rect x="77" y="199" width="1" height="2" fill="#0000ff"/>
<rect x="78" y="198" width="1" height="2" fill="#0000ff"/>
<rect x="79" y="198" width="1" height="2" fill="#0000ff"/>
<rect x="80" y="199" width="1" height="2" fill="#0000ff"/>
<rect x="81" y="197" width="1" height="4" fill="#0000ff"/>
<rect x="82" y="191" width="1" height="7" fill="#0000ff"/>
<rect x="83" y="185" width="1" height="7" fill="#0000ff"/>
<rect x="84" y="182" width="1" height="14" fill="#0000ff"/>
<rect x="85" y="195" width="1" height="9" fill="#0000ff"/>
<rect x="86" y="203" width="1" height="5" fill="#0000ff"/>
<rect x="87" y="207" width="1" height="1" fill="#0000ff"/>
<rect x="88" y="207" width="1" height="1" fill="#0000ff"/>
<rect x="89" y="207" width="1" height="2" fill="#0000ff"/>
<rect x="90" y="208" width="1" height="3" fill="#0000ff"/>
<rect x="91" y="208" width="1" height="5" fill="#0000ff"/>
<rect x="92" y="200" width="1" height="9" fill="#0000ff"/>
<rect x="93" y="195" width="1" height="6" fill="#0000ff"/>
<rect x="94" y="194" width="1" height="2" fill="#0000ff"/>
<rect x="95" y="193" width="1" height="2" fill="#0000ff"/>
<rect x="96" y="191" width="1" height="3" fill="#0000ff"/>
<rect x="97" y="190" width="1" height="2" fill="#0000ff"/>
<rect x="98" y="190" width="1" height="2" fill="#0000ff"/>
<rect x="99" y="191" width="1" height="3" fill="#0000ff"/>
<rect x="100" y="193" width="1" height="3" fill="#0000ff"/>
<rect x="101" y="195" width="1" height="3" fill="#0000ff"/>
<rect x="102" y="197" width="1" height="3" fill="#0000ff"/>
<rect x="103" y="199" width="1" height="3" fill="#0000ff"/>
<rect x="104" y="199" width="1" height="3" fill="#0000ff"/>
<rect x="105" y="198" width="1" height="2" fill="#0000ff"/>
<rect x="106" y="198" width="1" height="2" fill="#0000ff"/>
<rect x="107" y="199" width="1" height="1" fill="#0000ff"/>
<rect x="108" y="199" width="1" height="2" fill="#0000ff"/>
<rect x="109" y="200" width="1" height="1" fill="#0000ff"/>
<rect x="110" y="199" width="1" height="2" fill="#0000ff"/>
<rect x="111" y="199" width="1" height="3" fill="#0000ff"/>
<rect x="112" y="201" width="1" height="5" fill="#0000ff"/>
<rect x="113" y="205" width="1" height="4" fill="#0000ff"/>
<rect x="114" y="208" width="1" height="4" fill="#0000ff"/>
<rect x="115" y="211" width="1" height="3" fill="#0000ff"/>
<rect x="116" y="213" width="1" height="2" fill="#0000ff"/>
<rect x="117" y="210" width="1" height="5" fill="#0000ff"/>
<rect x="118" y="201" width="1" height="10" fill="#0000ff"/>
<rect x="119" y="197" width="1" height="5" fill="#0000ff"/>
<rect x="120" y="197" width="1" height="2" fill="#0000ff"/>
<rect x="121" y="198" width="1" height="3" fill="#0000ff"/>
<rect x="122" y="200" width="1" height="2" fill="#0000ff"/>
<rect x="123" y="201" width="1" height="2" fill="#0000ff"/>
<rect x="124" y="202" width="1" height="1" fill="#0000ff"/>
<rect x="125" y="202" width="1" height="2" fill="#0000ff"/>
<rect x="126" y="203" width="1" height="3" fill="#0000ff"/>
<rect x="127" y="205" width="1" height="2" fill="#0000ff"/>
<rect x="128" y="203" width="1" height="3" fill="#0000ff"/>
<rect x="129" y="200" width="1" height="4" fill="#0000ff"/>
<rect x="130" y="198" width="1" height="3" fill="#0000ff"/>
<rect x="131" y="198" width="1" height="1" fill="#0000ff"/>
<rect x="132" y="198" width="1" height="1" fill="#0000ff"/>
<rect x="133" y="197" width="1" height="2" fill="#0000ff"/>
<rect x="134" y="197" width="1" height="1" fill="#0000ff"/>
<rect x="135" y="196" width="1" height="4" fill="#0000ff"/>
<rect x="136" y="199" width="1" height="7" fill="#0000ff"/>
<rect x="137" y="205" width="1" height="5" fill="#0000ff"/>
<rect x="138" y="209" width="1" height="8" fill="#0000ff"/>
<rect x="139" y="216" width="1" height="2" fill="#0000ff"/>
<rect x="140" y="217" width="1" height="2" fill="#0000ff"/>
<rect x="141" y="218" width="1" height="1" fill="#0000ff"/>
<rect x="142" y="218" width="1" height="1" fill="#0000ff"/>
<rect x="143" y="217" width="1" height="2" fill="#0000ff"/>
<rect x="144" y="217" width="1" height="1" fill="#0000ff"/>
<rect x="145" y="216" width="1" height="2" fill="#0000ff"/>
<rect x="146" y="216" width="1" height="1" fill="#0000ff"/>
<rect x="147" y="216" width="1" height="2" fill="#0000ff"/>
<rect x="148" y="217" width="1" height="1" fill="#0000ff"/>
<rect x="149" y="217" width="1" height="2" fill="#0000ff"/>
<rect x="150" y="218" width="1" height="1" fill="#0000ff"/>
<rect x="151" y="218" width="1" height="1" fill="#0000ff"/>
<rect x="152" y="218" width="1" height="1" fill="#0000ff"/>
<rect x="153" y="218" width="1" height="1" fill="#0000ff"/>
<rect x="154" y="217" width="1" height="2" fill="#0000ff"/>
<rect x="155" y="217" width="1" height="1" fill="#0000ff"/>
<rect x="156" y="217" width="1" height="1" fill="#0000ff"/>
<rect x="157" y="217" width="1" height="1" fill="#0000ff"/>
<rect x="158" y="217" width="1" height="2" fill="#0000ff"/>
<rect x="159" y="218" width="1" height="1" fill="#0000ff"/>
<rect x="160" y="218" width="1" height="1" fill="#0000ff"/>
<rect x="161" y="218" width="1" height="1" fill="#0000ff"/>
<rect x="162" y="218" width="1" height="1" fill="#0000ff"/>
<rect x="163" y="218" width="1" height="1" fill="#0000ff"/>
<rect x="164" y="218" width="1" height="1" fill="#0000ff"/>
<rect x="165" y="217" width="1" height="2" fill="#0000ff"/>
<rect x="166" y="215" width="1" height="3" fill="#0000ff"/>
<rect x="167" y="207" width="1" height="9" fill="#0000ff"/>
<rect x="168" y="199" width="1" height="9" fill="#0000ff"/>
<rect x="169" y="194" width="1" height="6" fill="#0000ff"/>
<rect x="170" y="194" width="1" height="2" fill="#0000ff"/>
<rect x="171" y="195" width="1" height="3" fill="#0000ff"/>
<rect x="172" y="197" width="1" height="6" fill="#0000ff"/>
<rect x="173" y="202" width="1" height="6" fill="#0000ff"/>
<rect x="174" y="195" width="1" height="8" fill="#0000ff"/>
<rect x="175" y="191" width="1" height="5" fill="#0000ff"/>
<rect x="176" y="189" width="1" height="3" fill="#0000ff"/>
<rect x="177" y="187" width="1" height="3" fill="#0000ff"/>
<rect x="178" y="186" width="1" height="2" fill="#0000ff"/>
<rect x="179" y="186" width="1" height="3" fill="#0000ff"/>
<rect x="180" y="188" width="1" height="2" fill="#0000ff"/>
<rect x="181" y="189" width="1" height="2" fill="#0000ff"/>
<rect x="182" y="188" width="1" height="3" fill="#0000ff"/>
<rect x="183" y="183" width="1" height="6" fill="#0000ff"/>
<rect x="184" y="178" width="1" height="6" fill="#0000ff"/>
<rect x="185" y="175" width="1" height="4" fill="#0000ff"/>
<rect x="186" y="177" width="1" height="6" fill="#0000ff"/>
<rect x="187" y="182" width="1" height="6" fill="#0000ff"/>
<rect x="188" y="187" width="1" height="9" fill="#0000ff"/>
<rect x="189" y="195" width="1" height="8" fill="#0000ff"/>
<rect x="190" y="193" width="1" height="7" fill="#0000ff"/>
<rect x="191" y="182" width="1" height="12" fill="#0000ff"/>
<rect x="192" y="174" width="1" height="9" fill="#0000ff"/>
<rect x="193" y="173" width="1" height="2" fill="#0000ff"/>
<rect x="194" y="173" width="1" height="1" fill="#0000ff"/>
<rect x="195" y="172" width="1" height="3" fill="#0000ff"/>
<rect x="196" y="168" width="1" height="5" fill="#0000ff"/>
<rect x="197" y="165" width="1" height="4" fill="#0000ff"/>
<rect x="198" y="164" width="1" height="2" fill="#0000ff"/>
<rect x="199" y="164" width="1" height="1" fill="#0000ff"/>
<rect x="200" y="164" width="1" height="2" fill="#0000ff"/>
<rect x="201" y="164" width="1" height="3" fill="#0000ff"/>
<rect x="202" y="160" width="1" height="5" fill="#0000ff"/>
<rect x="203" y="153" width="1" height="8" fill="#0000ff"/>
<rect x="204" y="147" width="1" height="7" fill="#0000ff"/>
<rect x="205" y="143" width="1" height="5" fill="#0000ff"/>
<rect x="206" y="140" width="1" height="4" fill="#0000ff"/>
<rect x="207" y="137" width="1" height="4" fill="#0000ff"/>
<rect x="208" y="135" width="1" height="3" fill="#0000ff"/>
<rect x="209" y="137" width="1" height="6" fill="#0000ff"/>
<rect x="210" y="142" width="1" height="5" fill="#0000ff"/>
<rect x="211" y="146" width="1" height="4" fill="#0000ff"/>
<rect x="212" y="149" width="1" height="5" fill="#0000ff"/>
<rect x="213" y="153" width="1" height="3" fill="#0000ff"/>
<rect x="214" y="152" width="1" height="3" fill="#0000ff"/>
<rect x="215" y="150" width="1" height="3" fill="#0000ff"/>
<rect x="216" y="148" width="1" height="3" fill="#0000ff"/>
<rect x="217" y="148" width="1" height="2" fill="#0000ff"/>
<rect x="218" y="149" width="1" height="5" fill="#0000ff"/>
<rect x="219" y="153" width="1" height="6" fill="#0000ff"/>
<rect x="220" y="155" width="1" height="3" fill="#0000ff"/>
<rect x="221" y="152" width="1" height="4" fill="#0000ff"/>
<rect x="222" y="148" width="1" height="5" fill="#0000ff"/>
<rect x="223" y="144" width="1" height="5" fill="#0000ff"/>
<rect x="224" y="141" width="1" height="4" fill="#0000ff"/>
<rect x="225" y="141" width="1" height="1" fill="#0000ff"/>
<rect x="226" y="141" width="1" height="1" fill="#0000ff"/>
<rect x="227" y="141" width="1" height="1" fill="#0000ff"/>
<rect x="228" y="141" width="1" height="2" fill="#0000ff"/>
<rect x="229" y="142" width="1" height="5" fill="#0000ff"/>
<rect x="230" y="146" width="1" height="5" fill="#0000ff"/>
<rect x="231" y="150" width="1" height="4" fill="#0000ff"/>
<rect x="232" y="152" width="1" height="2" fill="#0000ff"/>
<rect x="233" y="151" width="1" height="2" fill="#0000ff"/>
<rect x="234" y="150" width="1" height="2" fill="#0000ff"/>
<rect x="235" y="150" width="1" height="1" fill="#0000ff"/>
<rect x="236" y="149" width="1" height="2" fill="#0000ff"/>
<rect x="237" y="149" width="1" height="1" fill="#0000ff"/>
<rect x="238" y="148" width="1" height="3" fill="#0000ff"/>
<rect x="239" y="150" width="1" height="5" fill="#0000ff"/>
<rect x="240" y="149" width="1" height="5" fill="#0000ff"/>
<rect x="241" y="147" width="1" height="3" fill="#0000ff"/>
<rect x="242" y="147" width="1" height="3" fill="#0000ff"/>
<rect x="243" y="149" width="1" height="3" fill="#0000ff"/>
<rect x="244" y="151" width="1" height="2" fill="#0000ff"/>
<rect x="245" y="149" width="1" height="3" fill="#0000ff"/>
<rect x="246" y="146" width="1" height="4" fill="#0000ff"/>
<rect x="247" y="144" width="1" height="3" fill="#0000ff"/>
<rect x="248" y="144" width="1" height="3" fill="#0000ff"/>
<rect x="249" y="146" width="1" height="3" fill="#0000ff"/>
<rect x="250" y="148" width="1" height="3" fill="#0000ff"/>
<rect x="251" y="150" width="1" height="2" fill="#0000ff"/>
<rect x="252" y="151" width="1" height="2" fill="#0000ff"/>
<rect x="253" y="152" width="1" height="2" fill="#0000ff"/>
<rect x="254" y="153" width="1" height="2" fill="#0000ff"/>
<rect x="255" y="154" width="1" height="3" fill="#0000ff"/>
<rect x="256" y="156" width="1" height="3" fill="#0000ff"/>
<rect x="257" y="158" width="1" height="3" fill="#0000ff"/>
<rect x="258" y="154" width="1" height="5" fill="#0000ff"/>
<rect x="259" y="151" width="1" height="4" fill="#0000ff"/>
<rect x="260" y="151" width="1" height="2" fill="#0000ff"/>
<rect x="261" y="152" width="1" height="1" fill="#0000ff"/>
<rect x="262" y="152" width="1" height="3" fill="#0000ff"/>
<rect x="263" y="154" width="1" height="3" fill="#0000ff"/>
<rect x="264" y="156" width="1" height="2" fill="#0000ff"/>
<rect x="265" y="155" width="1" height="3" fill="#0000ff"/>
<rect x="266" y="152" width="1" height="4" fill="#0000ff"/>
<rect x="267" y="148" width="1" height="5" fill="#0000ff"/>
<rect x="268" y="146" width="1" height="3" fill="#0000ff"/>
<rect x="269" y="146" width="1" height="2" fill="#0000ff"/>
<rect x="270" y="147" width="1" height="1" fill="#0000ff"/>
<rect x="271" y="147" width="1" height="3" fill="#0000ff"/>
<rect x="272" y="149" width="1" height="3" fill="#0000ff"/>
<rect x="273" y="148" width="1" height="3" fill="#0000ff"/>
<rect x="274" y="146" width="1" height="3" fill="#0000ff"/>
<rect x="275" y="144" width="1" height="3" fill="#0000ff"/>
<rect x="276" y="144" width="1" height="3" fill="#0000ff"/>
<rect x="277" y="146" width="1" height="2" fill="#0000ff"/>
<rect x="278" y="147" width="1" height="2" fill="#0000ff"/>
<rect x="279" y="148" width="1" height="2" fill="#0000ff"/>
<rect x="280" y="149" width="1" height="1" fill="#0000ff"/>
<rect x="281" y="149" width="1" height="7" fill="#0000ff"/>
<rect x="282" y="155" width="1" height="7" fill="#0000ff"/>
<rect x="283" y="152" width="1" height="6" fill="#0000ff"/>
<rect x="284" y="150" width="1" height="3" fill="#0000ff"/>
<rect x="285" y="148" width="1" height="3" fill="#0000ff"/>
<rect x="286" y="148" width="1" height="3" fill="#0000ff"/>
<rect x="287" y="150" width="1" height="3" fill="#0000ff"/>
<rect x="288" y="152" width="1" height="1" fill="#0000ff"/>
<rect x="289" y="151" width="1" height="2" fill="#0000ff"/>
<rect x="290" y="151" width="1" height="1" fill="#0000ff"/>
<rect x="291" y="149" width="1" height="3" fill="#0000ff"/>
<rect x="292" y="148" width="1" height="2" fill="#0000ff"/>
<rect x="293" y="148" width="1" height="3" fill="#0000ff"/>
<rect x="294" y="150" width="1" height="2" fill="#0000ff"/>
<rect x="295" y="151" width="1" height="3" fill="#0000ff"/>
<rect x="296" y="153" width="1" height="3" fill="#0000ff"/>
<rect x="297" y="155" width="1" height="1" fill="#0000ff"/>
<rect x="298" y="154" width="1" height="2" fill="#0000ff"/>
<rect x="299" y="154" width="1" height="1" fill="#0000ff"/>
<rect x="300" y="154" width="1" height="2" fill="#0000ff"/>
<rect x="301" y="155" width="1" height="3" fill="#0000ff"/>
<rect x="302" y="157" width="1" height="2" fill="#0000ff"/>
<rect x="303" y="155" width="1" height="3" fill="#0000ff"/>
<rect x="304" y="152" width="1" height="4" fill="#0000ff"/>
<rect x="305" y="150" width="1" height="3" fill="#0000ff"/>
<rect x="306" y="148" width="1" height="3" fill="#0000ff"/>
<rect x="307" y="148" width="1" height="1" fill="#0000ff"/>
<rect x="308" y="148" width="1" height="2" fill="#0000ff"/>
<rect x="309" y="149" width="1" height="1" fill="#0000ff"/>
<rect x="310" y="149" width="1" height="1" fill="#0000ff"/>
<rect x="311" y="149" width="1" height="1" fill="#0000ff"/>
<rect x="312" y="148" width="1" height="2" fill="#0000ff"/>
<rect x="313" y="148" width="1" height="1" fill="#0000ff"/>
<rect x="314" y="148" width="1" height="1" fill="#0000ff"/>
<rect x="315" y="148" width="1" height="2" fill="#0000ff"/>
<rect x="316" y="149" width="1" height="2" fill="#0000ff"/>
<rect x="317" y="150" width="1" height="3" fill="#0000ff"/>
<rect x="318" y="152" width="1" height="4" fill="#0000ff"/>
<rect x="319" y="155" width="1" height="5" fill="#0000ff"/>
<rect x="320" y="159" width="1" height="4" fill="#0000ff"/>
<rect x="321" y="162" width="1" height="5" fill="#0000ff"/>
<rect x="322" y="166" width="1" height="3" fill="#0000ff"/>
<rect x="323" y="164" width="1" height="6" fill="#0000ff"/>
<rect x="324" y="152" width="1" height="13" fill="#0000ff"/>
<rect x="325" y="146" width="1" height="7" fill="#0000ff"/>
<rect x="326" y="144" width="1" height="3" fill="#0000ff"/>
<rect x="327" y="142" width="1" height="3" fill="#0000ff"/>
<rect x="328" y="141" width="1" height="2" fill="#0000ff"/>
<rect x="329" y="141" width="1" height="1" fill="#0000ff"/>
<rect x="330" y="141" width="1" height="2" fill="#0000ff"/>
<rect x="331" y="142" width="1" height="3" fill="#0000ff"/>
<rect x="332" y="144" width="1" height="3" fill="#0000ff"/>
<rect x="333" y="146" width="1" height="3" fill="#0000ff"/>
<rect x="334" y="148" width="1" height="3" fill="#0000ff"/>
<rect x="335" y="149" width="1" height="2" fill="#0000ff"/>
<rect x="336" y="149" width="1" height="1" fill="#0000ff"/>
<rect x="337" y="148" width="1" height="2" fill="#0000ff"/>
<rect x="338" y="148" width="1" height="3" fill="#0000ff"/>
<rect x="339" y="150" width="1" height="3" fill="#0000ff"/>
<rect x="340" y="152" width="1" height="2" fill="#0000ff"/>
<rect x="341" y="153" width="1" height="1" fill="#0000ff"/>
<rect x="342" y="151" width="1" height="3" fill="#0000ff"/>
<rect x="343" y="151" width="1" height="2" fill="#0000ff"/>
<rect x="344" y="152" width="1" height="1" fill="#0000ff"/>
<rect x="345" y="152" width="1" height="3" fill="#0000ff"/>
<rect x="346" y="154" width="1" height="3" fill="#0000ff"/>
<rect x="347" y="156" width="1" height="3" fill="#0000ff"/>
<rect x="348" y="158" width="1" height="3" fill="#0000ff"/>
<rect x="349" y="158" width="1" height="3" fill="#0000ff"/>
<rect x="350" y="156" width="1" height="3" fill="#0000ff"/>
<rect x="351" y="156" width="1" height="3" fill="#0000ff"/>
<rect x="352" y="158" width="1" height="2" fill="#0000ff"/>
<rect x="353" y="159" width="1" height="3" fill="#0000ff"/>
<rect x="354" y="161" width="1" height="3" fill="#0000ff"/>
<rect x="355" y="163" width="1" height="4" fill="#0000ff"/>
<rect x="356" y="166" width="1" height="3" fill="#0000ff"/>
<rect x="357" y="167" width="1" height="2" fill="#0000ff"/>
<rect x="358" y="166" width="1" height="2" fill="#0000ff"/>
<rect x="359" y="165" width="1" height="2" fill="#0000ff"/>
<rect x="360" y="165" width="1" height="3" fill="#0000ff"/>
<rect x="361" y="167" width="1" height="2" fill="#0000ff"/>
<rect x="362" y="168" width="1" height="3" fill="#0000ff"/>
<rect x="363" y="170" width="1" height="2" fill="#0000ff"/>
<rect x="364" y="167" width="1" height="4" fill="#0000ff"/>
<rect x="365" y="167" width="1" height="1" fill="#0000ff"/>
<rect x="366" y="167" width="1" height="1" fill="#0000ff"/>
<rect x="367" y="167" width="1" height="1" fill="#0000ff"/>
<rect x="368" y="167" width="1" height="1" fill="#0000ff"/>
<rect x="369" y="167" width="1" height="1" fill="#0000ff"/>
<rect x="370" y="166" width="1" height="2" fill="#0000ff"/>
<rect x="371" y="166" width="1" height="2" fill="#0000ff"/>
<rect x="372" y="167" width="1" height="3" fill="#0000ff"/>
<rect x="373" y="169" width="1" height="3" fill="#0000ff"/>
<rect x="374" y="170" width="1" height="2" fill="#0000ff"/>
<rect x="375" y="169" width="1" height="2" fill="#0000ff"/>
<rect x="376" y="168" width="1" height="2" fill="#0000ff"/>
<rect x="377" y="168" width="1" height="3" fill="#0000ff"/>
<rect x="378" y="170" width="1" height="3" fill="#0000ff"/>
<rect x="379" y="172" width="1" height="4" fill="#0000ff"/>
<rect x="380" y="175" width="1" height="3" fill="#0000ff"/>
<rect x="381" y="177" width="1" height="2" fill="#0000ff"/>
<rect x="382" y="178" width="1" height="1" fill="#0000ff"/>
<rect x="383" y="178" width="1" height="1" fill="#0000ff"/>
<rect x="384" y="178" width="1" height="2" fill="#0000ff"/>
<rect x="385" y="179" width="1" height="3" fill="#0000ff"/>
<rect x="386" y="181" width="1" height="3" fill="#0000ff"/>
<rect x="387" y="180" width="1" height="3" fill="#0000ff"/>
<rect x="388" y="178" width="1" height="3" fill="#0000ff"/>
<rect x="389" y="179" width="1" height="3" fill="#0000ff"/>
<rect x="390" y="181" width="1" height="5" fill="#0000ff"/>
<rect x="391" y="185" width="1" height="5" fill="#0000ff"/>
<rect x="392" y="189" width="1" height="3" fill="#0000ff"/>
<rect x="393" y="191" width="1" height="7" fill="#0000ff"/>
<rect x="394" y="197" width="1" height="7" fill="#0000ff"/>
<rect x="395" y="202" width="1" height="2" fill="#0000ff"/>
<rect x="396" y="195" width="1" height="8" fill="#0000ff"/>
<rect x="397" y="184" width="1" height="12" fill="#0000ff"/>
<rect x="398" y="180" width="1" height="5" fill="#0000ff"/>
<rect x="399" y="177" width="1" height="4" fill="#0000ff"/>
<rect x="400" y="176" width="1" height="2" fill="#0000ff"/>
<rect x="401" y="176" width="1" height="1" fill="#0000ff"/>
<rect x="402" y="175" width="1" height="2" fill="#0000ff"/>
<rect x="403" y="175" width="1" height="3" fill="#0000ff"/>
<rect x="404" y="177" width="1" height="3" fill="#0000ff"/>
<rect x="405" y="179" width="1" height="4" fill="#0000ff"/>
<rect x="406" y="182" width="1" height="5" fill="#0000ff"/>
<rect x="407" y="186" width="1" height="4" fill="#0000ff"/>
<rect x="408" y="189" width="1" height="2" fill="#0000ff"/>
<rect x="409" y="190" width="1" height="2" fill="#0000ff"/>
<rect x="410" y="189" width="1" height="4" fill="#0000ff"/>
<rect x="411" y="181" width="1" height="9" fill="#0000ff"/>
<rect x="412" y="177" width="1" height="5" fill="#0000ff"/>
<rect x="413" y="175" width="1" height="3" fill="#0000ff"/>
<rect x="414" y="174" width="1" height="2" fill="#0000ff"/>
<rect x="415" y="174" width="1" height="1" fill="#0000ff"/>
<rect x="416" y="174" width="1" height="1" fill="#0000ff"/>
<rect x="417" y="174" width="1" height="1" fill="#0000ff"/>
<rect x="418" y="174" width="1" height="1" fill="#0000ff"/>
<rect x="419" y="174" width="1" height="1" fill="#0000ff"/>
<rect x="420" y="173" width="1" height="2" fill="#0000ff"/>
<rect x="421" y="172" width="1" height="2" fill="#0000ff"/>
<rect x="422" y="172" width="1" height="3" fill="#0000ff"/>
<rect x="423" y="174" width="1" height="2" fill="#0000ff"/>
<rect x="424" y="175" width="1" height="2" fill="#0000ff"/>
<rect x="425" y="176" width="1" height="2" fill="#0000ff"/>
<rect x="36" y="195" width="1" height="1" fill="#008000"/>
<rect x="37" y="195" width="2" height="9" fill="#008000"/>
<rect x="39" y="195" width="3" height="1" fill="#008000"/>
<rect x="42" y="195" width="2" height="16" fill="#008000"/>
<rect x="44" y="195" width="1" height="1" fill="#008000"/>
<rect x="45" y="195" width="1" height="24" fill="#008000"/>
<rect x="46" y="218" width="14" height="1" fill="#008000"/>
<rect x="60" y="210" width="2" height="9" fill="#008000"/>
<rect x="62" y="218" width="2" height="1" fill="#008000"/>
<rect x="64" y="203" width="2" height="16" fill="#008000"/>
<rect x="66" y="218" width="6" height="1" fill="#008000"/>
<rect x="72" y="195" width="1" height="24" fill="#008000"/>
<rect x="73" y="195" width="2" height="1" fill="#008000"/>
<rect x="75" y="195" width="1" height="16" fill="#008000"/>
<rect x="76" y="203" width="5" height="8" fill="#008000"/>
<rect x="81" y="188" width="1" height="16" fill="#008000"/>
<rect x="82" y="188" width="2" height="8" fill="#008000"/>
<rect x="84" y="195" width="1" height="16" fill="#008000"/>
<rect x="85" y="210" width="3" height="9" fill="#008000"/>
<rect x="88" y="218" width="3" height="1" fill="#008000"/>
<rect x="91" y="195" width="1" height="24" fill="#008000"/>
<rect x="92" y="195" width="3" height="16" fill="#008000"/>
<rect x="95" y="203" width="1" height="1" fill="#008000"/>
<rect x="96" y="195" width="2" height="9" fill="#008000"/>
<rect x="98" y="203" width="2" height="8" fill="#008000"/>
<rect x="100" y="195" width="1" height="9" fill="#008000"/>
<rect x="101" y="203" width="2" height="8" fill="#008000"/>
<rect x="103" y="203" width="1" height="1" fill="#008000"/>
<rect x="104" y="203" width="3" height="8" fill="#008000"/>
<rect x="107" y="203" width="2" height="1" fill="#008000"/>
<rect x="109" y="203" width="1" height="8" fill="#008000"/>
<rect x="110" y="210" width="1" height="1" fill="#008000"/>
<rect x="111" y="210" width="1" height="9" fill="#008000"/>
<rect x="112" y="218" width="5" height="1" fill="#008000"/>
<rect x="117" y="203" width="1" height="16" fill="#008000"/>
<rect x="118" y="203" width="3" height="1" fill="#008000"/>
<rect x="121" y="203" width="1" height="8" fill="#008000"/>
<rect x="122" y="210" width="1" height="1" fill="#008000"/>
<rect x="123" y="203" width="2" height="8" fill="#008000"/>
<rect x="125" y="210" width="1" height="9" fill="#008000"/>
<rect x="126" y="218" width="1" height="1" fill="#008000"/>
<rect x="127" y="203" width="1" height="16" fill="#008000"/>
<rect x="128" y="203" width="1" height="1" fill="#008000"/>
<rect x="129" y="195" width="1" height="9" fill="#008000"/>
<rect x="130" y="203" width="2" height="1" fill="#008000"/>
<rect x="132" y="195" width="2" height="9" fill="#008000"/>
<rect x="134" y="203" width="2" height="1" fill="#008000"/>
<rect x="136" y="203" width="1" height="16" fill="#008000"/>
<rect x="137" y="218" width="30" height="1" fill="#008000"/>
<rect x="167" y="195" width="1" height="24" fill="#008000"/>
<rect x="168" y="195" width="1" height="16" fill="#008000"/>
<rect x="169" y="210" width="3" height="1" fill="#008000"/>
<rect x="172" y="210" width="2" height="9" fill="#008000"/>
<rect x="174" y="210" width="1" height="1" fill="#008000"/>
<rect x="175" y="195" width="1" height="16" fill="#008000"/>
<rect x="176" y="195" width="1" height="1" fill="#008000"/>
<rect x="177" y="180" width="1" height="24" fill="#008000"/>
<rect x="178" y="203" width="3" height="1" fill="#008000"/>
<rect x="181" y="203" width="1" height="16" fill="#008000"/>
<rect x="182" y="218" width="1" height="1" fill="#008000"/>
<rect x="183" y="195" width="1" height="24" fill="#008000"/>
<rect x="184" y="188" width="1" height="8" fill="#008000"/>
<rect x="185" y="188" width="1" height="1" fill="#008000"/>
<rect x="186" y="188" width="1" height="31" fill="#008000"/>
<rect x="187" y="218" width="1" height="1" fill="#008000"/>
<rect x="188" y="188" width="1" height="31" fill="#008000"/>
<rect x="189" y="188" width="2" height="1" fill="#008000"/>
<rect x="191" y="180" width="1" height="9" fill="#008000"/>
<rect x="192" y="180" width="3" height="16" fill="#008000"/>
<rect x="195" y="173" width="1" height="8" fill="#008000"/>
<rect x="196" y="173" width="1" height="1" fill="#008000"/>
<rect x="197" y="165" width="2" height="24" fill="#008000"/>
<rect x="199" y="180" width="1" height="1" fill="#008000"/>
<rect x="200" y="180" width="1" height="16" fill="#008000"/>
<rect x="201" y="158" width="1" height="23" fill="#008000"/>
<rect x="202" y="158" width="1" height="1" fill="#008000"/>
<rect x="203" y="158" width="2" height="38" fill="#008000"/>
<rect x="205" y="150" width="2" height="24" fill="#008000"/>
<rect x="207" y="165" width="4" height="16" fill="#008000"/>
<rect x="211" y="165" width="2" height="24" fill="#008000"/>
<rect x="213" y="173" width="1" height="1" fill="#008000"/>
<rect x="214" y="173" width="2" height="16" fill="#008000"/>
<rect x="216" y="180" width="2" height="1" fill="#008000"/>
<rect x="218" y="150" width="1" height="31" fill="#008000"/>
<rect x="219" y="150" width="2" height="16" fill="#008000"/>
<rect x="221" y="165" width="1" height="9" fill="#008000"/>
<rect x="222" y="173" width="1" height="1" fill="#008000"/>
<rect x="223" y="173" width="2" height="8" fill="#008000"/>
<rect x="225" y="150" width="3" height="46" fill="#008000"/>
<rect x="228" y="173" width="2" height="8" fill="#008000"/>
<rect x="230" y="173" width="3" height="16" fill="#008000"/>
<rect x="233" y="173" width="2" height="1" fill="#008000"/>
<rect x="235" y="173" width="2" height="23" fill="#008000"/>
<rect x="237" y="158" width="1" height="16" fill="#008000"/>
<rect x="238" y="173" width="1" height="8" fill="#008000"/>
<rect x="239" y="150" width="2" height="24" fill="#008000"/>
<rect x="241" y="158" width="3" height="8" fill="#008000"/>
<rect x="244" y="158" width="4" height="1" fill="#008000"/>
<rect x="248" y="158" width="1" height="23" fill="#008000"/>
<rect x="249" y="173" width="1" height="8" fill="#008000"/>
<rect x="250" y="180" width="1" height="9" fill="#008000"/>
<rect x="251" y="188" width="1" height="1" fill="#008000"/>
<rect x="252" y="173" width="1" height="16" fill="#008000"/>
<rect x="253" y="173" width="3" height="8" fill="#008000"/>
<rect x="256" y="173" width="3" height="23" fill="#008000"/>
<rect x="259" y="158" width="1" height="16" fill="#008000"/>
<rect x="260" y="158" width="1" height="1" fill="#008000"/>
<rect x="261" y="158" width="1" height="23" fill="#008000"/>
<rect x="262" y="173" width="3" height="8" fill="#008000"/>
<rect x="265" y="180" width="3" height="1" fill="#008000"/>
<rect x="268" y="165" width="1" height="16" fill="#008000"/>
<rect x="269" y="165" width="1" height="1" fill="#008000"/>
<rect x="270" y="165" width="1" height="9" fill="#008000"/>
<rect x="271" y="173" width="1" height="1" fill="#008000"/>
<rect x="272" y="150" width="1" height="39" fill="#008000"/>
<rect x="273" y="173" width="2" height="1" fill="#008000"/>
<rect x="275" y="173" width="4" height="8" fill="#008000"/>
<rect x="279" y="173" width="3" height="1" fill="#008000"/>
<rect x="282" y="150" width="1" height="24" fill="#008000"/>
<rect x="283" y="158" width="1" height="16" fill="#008000"/>
<rect x="284" y="165" width="2" height="9" fill="#008000"/>
<rect x="286" y="173" width="2" height="16" fill="#008000"/>
<rect x="288" y="173" width="2" height="8" fill="#008000"/>
<rect x="290" y="165" width="1" height="9" fill="#008000"/>
<rect x="291" y="173" width="2" height="8" fill="#008000"/>
<rect x="293" y="158" width="2" height="38" fill="#008000"/>
<rect x="295" y="180" width="1" height="1" fill="#008000"/>
<rect x="296" y="158" width="1" height="23" fill="#008000"/>
<rect x="297" y="173" width="2" height="16" fill="#008000"/>
<rect x="299" y="165" width="1" height="9" fill="#008000"/>
<rect x="300" y="165" width="1" height="1" fill="#008000"/>
<rect x="301" y="165" width="1" height="16" fill="#008000"/>
<rect x="302" y="180" width="1" height="9" fill="#008000"/>
<rect x="303" y="188" width="1" height="8" fill="#008000"/>
<rect x="304" y="165" width="1" height="24" fill="#008000"/>
<rect x="305" y="165" width="1" height="9" fill="#008000"/>
<rect x="306" y="158" width="1" height="31" fill="#008000"/>
<rect x="307" y="188" width="1" height="1" fill="#008000"/>
<rect x="308" y="165" width="1" height="24" fill="#008000"/>
<rect x="309" y="165" width="1" height="1" fill="#008000"/>
<rect x="310" y="165" width="1" height="9" fill="#008000"/>
<rect x="311" y="173" width="2" height="1" fill="#008000"/>
<rect x="313" y="158" width="1" height="16" fill="#008000"/>
<rect x="314" y="158" width="1" height="1" fill="#008000"/>
<rect x="315" y="158" width="1" height="31" fill="#008000"/>
<rect x="316" y="158" width="2" height="23" fill="#008000"/>
<rect x="318" y="180" width="1" height="9" fill="#008000"/>
<rect x="319" y="180" width="1" height="1" fill="#008000"/>
<rect x="320" y="180" width="1" height="9" fill="#008000"/>
<rect x="321" y="173" width="1" height="8" fill="#008000"/>
<rect x="322" y="165" width="1" height="24" fill="#008000"/>
<rect x="323" y="158" width="1" height="31" fill="#008000"/>
<rect x="324" y="158" width="1" height="1" fill="#008000"/>
<rect x="325" y="158" width="1" height="31" fill="#008000"/>
<rect x="326" y="143" width="2" height="16" fill="#008000"/>
<rect x="328" y="158" width="1" height="16" fill="#008000"/>
<rect x="329" y="173" width="2" height="1" fill="#008000"/>
<rect x="331" y="173" width="4" height="8" fill="#008000"/>
<rect x="335" y="158" width="1" height="16" fill="#008000"/>
<rect x="336" y="158" width="1" height="1" fill="#008000"/>
<rect x="337" y="158" width="1" height="23" fill="#008000"/>
<rect x="338" y="165" width="1" height="16" fill="#008000"/>
<rect x="339" y="165" width="2" height="9" fill="#008000"/>
<rect x="341" y="158" width="3" height="16" fill="#008000"/>
<rect x="344" y="173" width="1" height="8" fill="#008000"/>
<rect x="345" y="180" width="1" height="1" fill="#008000"/>
<rect x="346" y="173" width="2" height="8" fill="#008000"/>
<rect x="348" y="165" width="2" height="16" fill="#008000"/>
<rect x="350" y="173" width="1" height="8" fill="#008000"/>
<rect x="351" y="180" width="4" height="1" fill="#008000"/>
<rect x="355" y="180" width="2" height="9" fill="#008000"/>
<rect x="357" y="165" width="1" height="16" fill="#008000"/>
<rect x="358" y="173" width="1" height="1" fill="#008000"/>
<rect x="359" y="173" width="1" height="8" fill="#008000"/>
<rect x="360" y="180" width="3" height="1" fill="#008000"/>
<rect x="363" y="180" width="1" height="24" fill="#008000"/>
<rect x="364" y="195" width="1" height="9" fill="#008000"/>
<rect x="365" y="195" width="2" height="1" fill="#008000"/>
<rect x="367" y="180" width="1" height="16" fill="#008000"/>
<rect x="368" y="180" width="1" height="1" fill="#008000"/>
<rect x="369" y="180" width="1" height="9" fill="#008000"/>
<rect x="370" y="188" width="1" height="1" fill="#008000"/>
<rect x="371" y="188" width="2" height="8" fill="#008000"/>
<rect x="373" y="195" width="2" height="9" fill="#008000"/>
<rect x="375" y="180" width="3" height="16" fill="#008000"/>
<rect x="378" y="195" width="1" height="1" fill="#008000"/>
<rect x="379" y="195" width="1" height="9" fill="#008000"/>
<rect x="380" y="203" width="1" height="1" fill="#008000"/>
<rect x="381" y="180" width="1" height="24" fill="#008000"/>
<rect x="382" y="195" width="2" height="9" fill="#008000"/>
<rect x="384" y="180" width="1" height="16" fill="#008000"/>
<rect x="385" y="180" width="1" height="1" fill="#008000"/>
<rect x="386" y="180" width="1" height="16" fill="#008000"/>
<rect x="387" y="188" width="1" height="1" fill="#008000"/>
<rect x="388" y="188" width="1" height="8" fill="#008000"/>
<rect x="389" y="195" width="1" height="1" fill="#008000"/>
<rect x="390" y="195" width="1" height="24" fill="#008000"/>
<rect x="391" y="210" width="1" height="9" fill="#008000"/>
<rect x="392" y="195" width="2" height="16" fill="#008000"/>
<rect x="394" y="210" width="1" height="9" fill="#008000"/>
<rect x="395" y="203" width="3" height="8" fill="#008000"/>
<rect x="398" y="180" width="2" height="24" fill="#008000"/>
<rect x="400" y="173" width="2" height="23" fill="#008000"/>
<rect x="402" y="195" width="2" height="1" fill="#008000"/>
<rect x="404" y="195" width="6" height="24" fill="#008000"/>
<rect x="410" y="195" width="2" height="1" fill="#008000"/>
<rect x="412" y="180" width="1" height="16" fill="#008000"/>
<rect x="413" y="173" width="3" height="23" fill="#008000"/>
<rect x="416" y="188" width="1" height="1" fill="#008000"/>
<rect x="417" y="180" width="2" height="16" fill="#008000"/>
<rect x="419" y="188" width="3" height="1" fill="#008000"/>
<rect x="422" y="180" width="1" height="9" fill="#008000"/>
<rect x="423" y="180" width="2" height="1" fill="#008000"/>
<rect x="425" y="180" width="1" height="16" fill="#008000"/>
<rect x="33" y="12" width="396" height="1" fill="#000000"/>
<rect x="33" y="221" width="396" height="1" fill="#000000"/>
<rect x="33" y="12" width="1" height="210" fill="#000000"/>
<rect x="428" y="12" width="1" height="210" fill="#000000"/>
<rect x="34" y="13" width="1" height="207" fill="#a0a0a0"/>
<rect x="34" y="13" width="394" height="1" fill="#a0a0a0"/>
<rect x="429" y="151" width="1" height="1" fill="#000000"/>
<rect x="429" y="15" width="6" height="1" fill="#ff00ff"/>
<rect x="429" y="35" width="6" height="1" fill="#ff00ff"/>
<rect x="429" y="56" width="6" height="1" fill="#ff00ff"/>
<rect x="429" y="76" width="6" height="1" fill="#ff00ff"/>
<rect x="429" y="96" width="6" height="1" fill="#ff00ff"/>
<rect x="429" y="116" width="6" height="1" fill="#ff00ff"/>
<rect x="429" y="137" width="6" height="1" fill="#ff00ff"/>
<rect x="429" y="157" width="6" height="1" fill="#ff00ff"/>
<rect x="429" y="177" width="6" height="1" fill="#ff00ff"/>
<rect x="429" y="198" width="6" height="1" fill="#ff00ff"/>
<rect x="429" y="218" width="6" height="1" fill="#ff00ff"/>
<rect x="426" y="225" width="1" height="5" fill="#0000ff"/>
<line x1="35" y1="245.5" x2="426" y2="245.5" stroke="#d8d8d8" stroke-width="1" stroke-dasharray="3 3"/>
<line x1="35" y1="262.5" x2="426" y2="262.5" stroke="#d8d8d8" stroke-width="1" stroke-dasharray="3 3"/>
<line x1="35" y1="279.5" x2="426" y2="279.5" stroke="#d8d8d8" stroke-width="1" stroke-dasharray="3 3"/>
<line x1="35" y1="295.5" x2="426" y2="295.5" stroke="#d8d8d8" stroke-width="1" stroke-dasharray="3 3"/>
<rect x="35" y="312" width="392" height="1" fill="#e0e0e0"/>
<line x1="35.5" y1="245" x2="35.5" y2="312" stroke="#d8d8d8" stroke-width="1" stroke-dasharray="3 3"/>
<rect x="61" y="245" width="2" height="67" fill="#e0e0e0"/>
<rect x="94" y="245" width="2" height="67" fill="#e0e0e0"/>
<rect x="127" y="245" width="2" height="67" fill="#e0e0e0"/>
<rect x="160" y="245" width="2" height="67" fill="#e0e0e0"/>
<rect x="193" y="245" width="2" height="67" fill="#e0e0e0"/>
<rect x="226" y="245" width="2" height="67" fill="#e0e0e0"/>
<rect x="259" y="245" width="2" height="67" fill="#e0e0e0"/>
<rect x="292" y="245" width="2" height="67" fill="#e0e0e0"/>
<rect x="325" y="245" width="2" height="67" fill="#e0e0e0"/>
<rect x="358" y="245" width="2" height="67" fill="#e0e0e0"/>
<rect x="391" y="245" width="2" height="67" fill="#e0e0e0"/>
<rect x="424" y="245" width="2" height="67" fill="#e0e0e0"/>
<rect x="35" y="262" width="21" height="1" fill="#ff0000"/>
<rect x="56" y="262" width="1" height="17" fill="#ff0000"/>
<rect x="57" y="278" width="8" height="1" fill="#ff0000"/>
<rect x="65" y="266" width="1" height="13" fill="#ff0000"/>
<rect x="66" y="266" width="4" height="1" fill="#ff0000"/>
<rect x="70" y="256" width="1" height="11" fill="#ff0000"/>
<rect x="71" y="245" width="1" height="12" fill="#ff0000"/>
<rect x="72" y="245" width="7" height="1" fill="#ff0000"/>
<rect x="79" y="245" width="1" height="64" fill="#ff0000"/>
<rect x="80" y="308" width="2" height="1" fill="#ff0000"/>
<rect x="82" y="245" width="1" height="64" fill="#ff0000"/>
<rect x="83" y="245" width="3" height="1" fill="#ff0000"/>
<rect x="86" y="245" width="1" height="64" fill="#ff0000"/>
<rect x="87" y="308" width="2" height="1" fill="#ff0000"/>
<rect x="89" y="245" width="1" height="64" fill="#ff0000"/>
<rect x="90" y="245" width="7" height="1" fill="#ff0000"/>
<rect x="97" y="245" width="2" height="65" fill="#ff0000"/>
<rect x="99" y="245" width="38" height="1" fill="#ff0000"/>
<rect x="137" y="245" width="1" height="60" fill="#ff0000"/>
<rect x="138" y="304" width="22" height="1" fill="#ff0000"/>
<rect x="160" y="299" width="1" height="6" fill="#ff0000"/>
<rect x="161" y="295" width="1" height="5" fill="#ff0000"/>
<rect x="162" y="295" width="4" height="1" fill="#ff0000"/>
<rect x="166" y="279" width="1" height="17" fill="#ff0000"/>
<rect x="167" y="278" width="1" height="2" fill="#ff0000"/>
<rect x="168" y="278" width="4" height="1" fill="#ff0000"/>
<rect x="172" y="272" width="1" height="7" fill="#ff0000"/>
<rect x="173" y="270" width="1" height="3" fill="#ff0000"/>
<rect x="174" y="272" width="2" height="3" fill="#ff0000"/>
<rect x="176" y="272" width="1" height="7" fill="#ff0000"/>
<rect x="177" y="270" width="2" height="9" fill="#ff0000"/>
<rect x="179" y="278" width="1" height="1" fill="#ff0000"/>
<rect x="180" y="270" width="1" height="9" fill="#ff0000"/>
<rect x="181" y="264" width="1" height="7" fill="#ff0000"/>
<rect x="182" y="264" width="1" height="11" fill="#ff0000"/>
<rect x="183" y="274" width="1" height="1" fill="#ff0000"/>
<rect x="184" y="266" width="1" height="9" fill="#ff0000"/>
<rect x="185" y="266" width="1" height="1" fill="#ff0000"/>
<rect x="186" y="263" width="1" height="4" fill="#ff0000"/>
<rect x="187" y="263" width="1" height="1" fill="#ff0000"/>
<rect x="188" y="261" width="1" height="3" fill="#ff0000"/>
<rect x="189" y="263" width="1" height="2" fill="#ff0000"/>
<rect x="190" y="264" width="1" height="1" fill="#ff0000"/>
<rect x="191" y="264" width="1" height="7" fill="#ff0000"/>
<rect x="192" y="270" width="1" height="10" fill="#ff0000"/>
<rect x="193" y="279" width="1" height="1" fill="#ff0000"/>
<rect x="194" y="268" width="1" height="12" fill="#ff0000"/>
<rect x="195" y="270" width="2" height="1" fill="#ff0000"/>
<rect x="197" y="270" width="1" height="5" fill="#ff0000"/>
<rect x="198" y="271" width="3" height="1" fill="#ff0000"/>
<rect x="201" y="271" width="1" height="8" fill="#ff0000"/>
<rect x="202" y="278" width="1" height="1" fill="#ff0000"/>
<rect x="203" y="274" width="1" height="5" fill="#ff0000"/>
<rect x="204" y="274" width="1" height="1" fill="#ff0000"/>
<rect x="205" y="274" width="1" height="5" fill="#ff0000"/>
<rect x="206" y="278" width="3" height="1" fill="#ff0000"/>
<rect x="209" y="271" width="1" height="8" fill="#ff0000"/>
<rect x="210" y="271" width="2" height="6" fill="#ff0000"/>
<rect x="212" y="269" width="5" height="5" fill="#ff0000"/>
<rect x="217" y="268" width="1" height="2" fill="#ff0000"/>
<rect x="218" y="268" width="2" height="1" fill="#ff0000"/>
<rect x="220" y="266" width="3" height="6" fill="#ff0000"/>
<rect x="223" y="271" width="1" height="5" fill="#ff0000"/>
<rect x="224" y="271" width="2" height="1" fill="#ff0000"/>
<rect x="226" y="268" width="1" height="4" fill="#ff0000"/>
<rect x="227" y="268" width="1" height="1" fill="#ff0000"/>
<rect x="228" y="268" width="1" height="9" fill="#ff0000"/>
<rect x="229" y="276" width="2" height="1" fill="#ff0000"/>
<rect x="231" y="269" width="1" height="8" fill="#ff0000"/>
<rect x="232" y="269" width="1" height="4" fill="#ff0000"/>
<rect x="233" y="267" width="1" height="3" fill="#ff0000"/>
<rect x="234" y="267" width="1" height="1" fill="#ff0000"/>
<rect x="235" y="267" width="1" height="7" fill="#ff0000"/>
<rect x="236" y="270" width="2" height="4" fill="#ff0000"/>
<rect x="238" y="267" width="2" height="6" fill="#ff0000"/>
<rect x="240" y="272" width="2" height="1" fill="#ff0000"/>
<rect x="242" y="267" width="1" height="6" fill="#ff0000"/>
<rect x="243" y="267" width="2" height="1" fill="#ff0000"/>
<rect x="245" y="267" width="1" height="5" fill="#ff0000"/>
<rect x="246" y="268" width="1" height="4" fill="#ff0000"/>
<rect x="247" y="271" width="3" height="1" fill="#ff0000"/>
<rect x="250" y="261" width="1" height="11" fill="#ff0000"/>
<rect x="251" y="265" width="2" height="7" fill="#ff0000"/>
<rect x="253" y="271" width="1" height="1" fill="#ff0000"/>
<rect x="254" y="271" width="1" height="4" fill="#ff0000"/>
<rect x="255" y="274" width="1" height="1" fill="#ff0000"/>
<rect x="256" y="267" width="1" height="8" fill="#ff0000"/>
<rect x="257" y="267" width="3" height="7" fill="#ff0000"/>
<rect x="260" y="271" width="3" height="1" fill="#ff0000"/>
<rect x="263" y="271" width="1" height="3" fill="#ff0000"/>
<rect x="264" y="271" width="3" height="1" fill="#ff0000"/>
<rect x="267" y="268" width="1" height="4" fill="#ff0000"/>
<rect x="268" y="268" width="1" height="1" fill="#ff0000"/>
<rect x="269" y="268" width="1" height="3" fill="#ff0000"/>
<rect x="270" y="270" width="1" height="1" fill="#ff0000"/>
<rect x="271" y="260" width="1" height="11" fill="#ff0000"/>
<rect x="272" y="270" width="1" height="1" fill="#ff0000"/>
<rect x="273" y="269" width="3" height="3" fill="#ff0000"/>
<rect x="276" y="267" width="2" height="5" fill="#ff0000"/>
<rect x="278" y="269" width="3" height="1" fill="#ff0000"/>
<rect x="281" y="267" width="1" height="3" fill="#ff0000"/>
<rect x="282" y="267" width="1" height="1" fill="#ff0000"/>
<rect x="283" y="267" width="1" height="4" fill="#ff0000"/>
<rect x="284" y="270" width="1" height="1" fill="#ff0000"/>
<rect x="285" y="268" width="1" height="3" fill="#ff0000"/>
<rect x="286" y="268" width="3" height="1" fill="#ff0000"/>
<rect x="289" y="268" width="1" height="4" fill="#ff0000"/>
<rect x="290" y="271" width="2" height="1" fill="#ff0000"/>
<rect x="292" y="267" width="1" height="5" fill="#ff0000"/>
<rect x="293" y="271" width="1" height="8" fill="#ff0000"/>
<rect x="294" y="269" width="1" height="3" fill="#ff0000"/>
<rect x="295" y="269" width="1" height="1" fill="#ff0000"/>
<rect x="296" y="269" width="1" height="4" fill="#ff0000"/>
<rect x="297" y="272" width="1" height="1" fill="#ff0000"/>
<rect x="298" y="267" width="1" height="6" fill="#ff0000"/>
<rect x="299" y="267" width="1" height="1" fill="#ff0000"/>
<rect x="300" y="267" width="1" height="6" fill="#ff0000"/>
<rect x="301" y="269" width="2" height="1" fill="#ff0000"/>
<rect x="303" y="269" width="1" height="3" fill="#ff0000"/>
<rect x="304" y="271" width="2" height="1" fill="#ff0000"/>
<rect x="306" y="270" width="1" height="2" fill="#ff0000"/>
<rect x="307" y="270" width="2" height="1" fill="#ff0000"/>
<rect x="309" y="270" width="1" height="8" fill="#ff0000"/>
<rect x="310" y="269" width="1" height="2" fill="#ff0000"/>
<rect x="311" y="269" width="1" height="1" fill="#ff0000"/>
<rect x="312" y="269" width="1" height="3" fill="#ff0000"/>
<rect x="313" y="271" width="2" height="1" fill="#ff0000"/>
<rect x="315" y="267" width="1" height="5" fill="#ff0000"/>
<rect x="316" y="267" width="1" height="1" fill="#ff0000"/>
<rect x="317" y="267" width="1" height="8" fill="#ff0000"/>
<rect x="318" y="269" width="1" height="6" fill="#ff0000"/>
<rect x="319" y="273" width="3" height="3" fill="#ff0000"/>
<rect x="322" y="275" width="1" height="4" fill="#ff0000"/>
<rect x="323" y="278" width="1" height="1" fill="#ff0000"/>
<rect x="324" y="276" width="1" height="3" fill="#ff0000"/>
<rect x="325" y="278" width="1" height="1" fill="#ff0000"/>
<rect x="326" y="278" width="1" height="2" fill="#ff0000"/>
<rect x="327" y="279" width="3" height="1" fill="#ff0000"/>
<rect x="330" y="276" width="1" height="4" fill="#ff0000"/>
<rect x="331" y="276" width="1" height="1" fill="#ff0000"/>
<rect x="332" y="276" width="1" height="3" fill="#ff0000"/>
<rect x="333" y="278" width="3" height="1" fill="#ff0000"/>
<rect x="336" y="276" width="1" height="3" fill="#ff0000"/>
<rect x="337" y="276" width="1" height="1" fill="#ff0000"/>
<rect x="338" y="276" width="1" height="4" fill="#ff0000"/>
<rect x="339" y="279" width="2" height="1" fill="#ff0000"/>
<rect x="341" y="278" width="1" height="2" fill="#ff0000"/>
<rect x="342" y="278" width="3" height="1" fill="#ff0000"/>
<rect x="345" y="277" width="2" height="4" fill="#ff0000"/>
<rect x="347" y="277" width="1" height="1" fill="#ff0000"/>
<rect x="348" y="277" width="1" height="5" fill="#ff0000"/>
<rect x="349" y="281" width="1" height="1" fill="#ff0000"/>
<rect x="350" y="278" width="1" height="4" fill="#ff0000"/>
<rect x="351" y="278" width="1" height="1" fill="#ff0000"/>
<rect x="352" y="277" width="1" height="2" fill="#ff0000"/>
<rect x="353" y="277" width="1" height="1" fill="#ff0000"/>
<rect x="354" y="276" width="1" height="2" fill="#ff0000"/>
<rect x="355" y="276" width="1" height="1" fill="#ff0000"/>
<rect x="356" y="276" width="1" height="3" fill="#ff0000"/>
<rect x="357" y="278" width="2" height="1" fill="#ff0000"/>
<rect x="359" y="278" width="3" height="4" fill="#ff0000"/>
<rect x="362" y="281" width="1" height="6" fill="#ff0000"/>
<rect x="363" y="284" width="3" height="3" fill="#ff0000"/>
<rect x="366" y="279" width="1" height="6" fill="#ff0000"/>
<rect x="367" y="279" width="1" height="1" fill="#ff0000"/>
<rect x="368" y="279" width="1" height="5" fill="#ff0000"/>
<rect x="369" y="281" width="1" height="3" fill="#ff0000"/>
<rect x="370" y="283" width="1" height="2" fill="#ff0000"/>
<rect x="371" y="280" width="2" height="5" fill="#ff0000"/>
<rect x="373" y="284" width="1" height="1" fill="#ff0000"/>
<rect x="374" y="284" width="1" height="4" fill="#ff0000"/>
<rect x="375" y="284" width="1" height="1" fill="#ff0000"/>
<rect x="376" y="284" width="1" height="4" fill="#ff0000"/>
<rect x="377" y="287" width="1" height="1" fill="#ff0000"/>
<rect x="378" y="283" width="2" height="5" fill="#ff0000"/>
<rect x="380" y="287" width="2" height="1" fill="#ff0000"/>
<rect x="382" y="283" width="1" height="5" fill="#ff0000"/>
<rect x="383" y="281" width="2" height="3" fill="#ff0000"/>
<rect x="385" y="282" width="1" height="1" fill="#ff0000"/>
<rect x="386" y="280" width="2" height="3" fill="#ff0000"/>
<rect x="388" y="282" width="1" height="2" fill="#ff0000"/>
<rect x="389" y="283" width="1" height="4" fill="#ff0000"/>
<rect x="390" y="278" width="2" height="6" fill="#ff0000"/>
<rect x="392" y="271" width="1" height="8" fill="#ff0000"/>
<rect x="393" y="271" width="1" height="1" fill="#ff0000"/>
<rect x="394" y="271" width="1" height="13" fill="#ff0000"/>
<rect x="395" y="283" width="1" height="1" fill="#ff0000"/>
<rect x="396" y="283" width="1" height="5" fill="#ff0000"/>
<rect x="397" y="287" width="1" height="1" fill="#ff0000"/>
<rect x="398" y="283" width="3" height="5" fill="#ff0000"/>
<rect x="401" y="283" width="4" height="1" fill="#ff0000"/>
<rect x="405" y="283" width="2" height="5" fill="#ff0000"/>
<rect x="407" y="283" width="2" height="1" fill="#ff0000"/>
<rect x="409" y="283" width="1" height="5" fill="#ff0000"/>
<rect x="410" y="287" width="4" height="1" fill="#ff0000"/>
<rect x="414" y="285" width="2" height="3" fill="#ff0000"/>
<rect x="416" y="287" width="2" height="1" fill="#ff0000"/>
<rect x="418" y="285" width="1" height="3" fill="#ff0000"/>
<rect x="419" y="283" width="2" height="3" fill="#ff0000"/>
<rect x="421" y="278" width="1" height="6" fill="#ff0000"/>
<rect x="422" y="278" width="1" height="4" fill="#ff0000"/>
<rect x="423" y="281" width="1" height="1" fill="#ff0000"/>
<rect x="424" y="281" width="1" height="3" fill="#ff0000"/>
<rect x="425" y="283" width="1" height="4" fill="#ff0000"/>
<rect x="32" y="242" width="397" height="1" fill="#000000"/>
<rect x="32" y="315" width="397" height="1" fill="#000000"/>
<rect x="32" y="242" width="1" height="74" fill="#000000"/>
<rect x="428" y="242" width="1" height="74" fill="#000000"/>
<rect x="33" y="243" width="1" height="71" fill="#a0a0a0"/>
<rect x="33" y="243" width="395" height="1" fill="#a0a0a0"/>
<rect x="446" y="301" width="2" height="1" fill="#ff0000"/>
<rect x="28" y="245" width="4" height="1" fill="#ff0000"/>
<rect x="28" y="262" width="4" height="1" fill="#ff0000"/>
<rect x="28" y="278" width="4" height="1" fill="#ff0000"/>
<rect x="28" y="294" width="4" height="1" fill="#ff0000"/>
<rect x="28" y="311" width="4" height="1" fill="#ff0000"/>
<line x1="36" y1="338.5" x2="427" y2="338.5" stroke="#d8d8d8" stroke-width="1" stroke-dasharray="3 3"/>
<line x1="36" y1="357.5" x2="427" y2="357.5" stroke="#d8d8d8" stroke-width="1" stroke-dasharray="3 3"/>
<line x1="36" y1="375.5" x2="427" y2="375.5" stroke="#d8d8d8" stroke-width="1" stroke-dasharray="3 3"/>
<line x1="36" y1="394.5" x2="427" y2="394.5" stroke="#d8d8d8" stroke-width="1" stroke-dasharray="3 3"/>
<line x1="36" y1="412.5" x2="427" y2="412.5" stroke="#d8d8d8" stroke-width="1" stroke-dasharray="3 3"/>
<line x1="36" y1="431.5" x2="427" y2="431.5" stroke="#d8d8d8" stroke-width="1" stroke-dasharray="3 3"/>
<line x1="36" y1="450.5" x2="427" y2="450.5" stroke="#d8d8d8" stroke-width="1" stroke-dasharray="3 3"/>
<line x1="36" y1="468.5" x2="427" y2="468.5" stroke="#d8d8d8" stroke-width="1" stroke-dasharray="3 3"/>
<line x1="36" y1="487.5" x2="427" y2="487.5" stroke="#d8d8d8" stroke-width="1" stroke-dasharray="3 3"/>
<line x1="36" y1="505.5" x2="427" y2="505.5" stroke="#d8d8d8" stroke-width="1" stroke-dasharray="3 3"/>
<line x1="36" y1="524.5" x2="427" y2="524.5" stroke="#d8d8d8" stroke-width="1" stroke-dasharray="3 3"/>
<line x1="36.5" y1="338" x2="36.5" y2="523" stroke="#d8d8d8" stroke-width="1" stroke-dasharray="3 3"/>
<rect x="35" y="524" width="393" height="1" fill="#ff0000"/>
<rect x="36" y="393" width="7" height="1" fill="#0000ff"/>
<rect x="43" y="391" width="1" height="3" fill="#0000ff"/>
<rect x="44" y="391" width="5" height="1" fill="#0000ff"/>
<rect x="49" y="391" width="1" height="3" fill="#0000ff"/>
<rect x="50" y="393" width="105" height="1" fill="#0000ff"/>
<rect x="155" y="393" width="1" height="3" fill="#0000ff"/>
<rect x="156" y="395" width="18" height="1" fill="#0000ff"/>
<rect x="174" y="395" width="1" height="3" fill="#0000ff"/>
<rect x="175" y="397" width="1" height="3" fill="#0000ff"/>
<rect x="176" y="399" width="4" height="1" fill="#0000ff"/>
<rect x="180" y="399" width="1" height="3" fill="#0000ff"/>
<rect x="181" y="401" width="2" height="1" fill="#0000ff"/>
<rect x="183" y="401" width="1" height="3" fill="#0000ff"/>
<rect x="184" y="403" width="1" height="1" fill="#0000ff"/>
<rect x="185" y="403" width="1" height="4" fill="#0000ff"/>
<rect x="186" y="406" width="1" height="3" fill="#0000ff"/>
<rect x="187" y="404" width="1" height="3" fill="#0000ff"/>
<rect x="188" y="404" width="1" height="1" fill="#0000ff"/>
<rect x="189" y="404" width="1" height="5" fill="#0000ff"/>
<rect x="190" y="406" width="1" height="1" fill="#0000ff"/>
<rect x="191" y="404" width="1" height="3" fill="#0000ff"/>
<rect x="192" y="403" width="1" height="2" fill="#0000ff"/>
<rect x="193" y="403" width="3" height="1" fill="#0000ff"/>
<rect x="196" y="403" width="1" height="4" fill="#0000ff"/>
<rect x="197" y="406" width="1" height="5" fill="#0000ff"/>
<rect x="198" y="410" width="3" height="1" fill="#0000ff"/>
<rect x="201" y="408" width="1" height="3" fill="#0000ff"/>
<rect x="202" y="406" width="1" height="3" fill="#0000ff"/>
<rect x="203" y="406" width="5" height="1" fill="#0000ff"/>
<rect x="208" y="406" width="4" height="3" fill="#0000ff"/>
<rect x="212" y="408" width="1" height="3" fill="#0000ff"/>
<rect x="213" y="410" width="4" height="1" fill="#0000ff"/>
<rect x="217" y="409" width="1" height="2" fill="#0000ff"/>
<rect x="218" y="410" width="10" height="1" fill="#0000ff"/>
<rect x="228" y="410" width="3" height="3" fill="#0000ff"/>
<rect x="231" y="412" width="1" height="3" fill="#0000ff"/>
<rect x="232" y="414" width="3" height="1" fill="#0000ff"/>
<rect x="235" y="414" width="1" height="2" fill="#0000ff"/>
<rect x="236" y="415" width="5" height="1" fill="#0000ff"/>
<rect x="241" y="415" width="1" height="3" fill="#0000ff"/>
<rect x="242" y="417" width="3" height="1" fill="#0000ff"/>
<rect x="245" y="417" width="2" height="3" fill="#0000ff"/>
<rect x="247" y="419" width="1" height="3" fill="#0000ff"/>
<rect x="248" y="421" width="1" height="1" fill="#0000ff"/>
<rect x="249" y="421" width="1" height="2" fill="#0000ff"/>
<rect x="250" y="422" width="1" height="2" fill="#0000ff"/>
<rect x="251" y="423" width="4" height="1" fill="#0000ff"/>
<rect x="255" y="423" width="1" height="2" fill="#0000ff"/>
<rect x="256" y="424" width="1" height="1" fill="#0000ff"/>
<rect x="257" y="421" width="1" height="4" fill="#0000ff"/>
<rect x="258" y="421" width="1" height="1" fill="#0000ff"/>
<rect x="259" y="419" width="1" height="3" fill="#0000ff"/>
<rect x="260" y="419" width="1" height="1" fill="#0000ff"/>
<rect x="261" y="419" width="1" height="3" fill="#0000ff"/>
<rect x="262" y="421" width="1" height="3" fill="#0000ff"/>
<rect x="263" y="423" width="1" height="1" fill="#0000ff"/>
<rect x="264" y="418" width="1" height="6" fill="#0000ff"/>
<rect x="265" y="418" width="1" height="1" fill="#0000ff"/>
<rect x="266" y="418" width="2" height="4" fill="#0000ff"/>
<rect x="268" y="417" width="1" height="2" fill="#0000ff"/>
<rect x="269" y="417" width="4" height="1" fill="#0000ff"/>
<rect x="273" y="413" width="1" height="5" fill="#0000ff"/>
<rect x="274" y="413" width="2" height="3" fill="#0000ff"/>
<rect x="276" y="411" width="1" height="4" fill="#0000ff"/>
<rect x="277" y="410" width="1" height="2" fill="#0000ff"/>
<rect x="278" y="410" width="4" height="1" fill="#0000ff"/>
<rect x="282" y="408" width="1" height="3" fill="#0000ff"/>
<rect x="283" y="406" width="1" height="3" fill="#0000ff"/>
<rect x="284" y="406" width="3" height="1" fill="#0000ff"/>
<rect x="287" y="404" width="1" height="3" fill="#0000ff"/>
<rect x="288" y="404" width="1" height="1" fill="#0000ff"/>
<rect x="289" y="404" width="1" height="3" fill="#0000ff"/>
<rect x="290" y="406" width="1" height="3" fill="#0000ff"/>
<rect x="291" y="408" width="1" height="1" fill="#0000ff"/>
<rect x="292" y="406" width="1" height="3" fill="#0000ff"/>
<rect x="293" y="406" width="1" height="1" fill="#0000ff"/>
<rect x="294" y="406" width="1" height="3" fill="#0000ff"/>
<rect x="295" y="408" width="1" height="3" fill="#0000ff"/>
<rect x="296" y="410" width="4" height="1" fill="#0000ff"/>
<rect x="300" y="410" width="1" height="5" fill="#0000ff"/>
<rect x="301" y="414" width="3" height="1" fill="#0000ff"/>
<rect x="304" y="412" width="1" height="3" fill="#0000ff"/>
<rect x="305" y="412" width="1" height="1" fill="#0000ff"/>
<rect x="306" y="410" width="1" height="3" fill="#0000ff"/>
<rect x="307" y="412" width="1" height="3" fill="#0000ff"/>
<rect x="308" y="414" width="1" height="1" fill="#0000ff"/>
<rect x="309" y="412" width="1" height="3" fill="#0000ff"/>
<rect x="310" y="412" width="2" height="1" fill="#0000ff"/>
<rect x="312" y="412" width="5" height="3" fill="#0000ff"/>
<rect x="317" y="414" width="1" height="2" fill="#0000ff"/>
<rect x="318" y="415" width="1" height="1" fill="#0000ff"/>
<rect x="319" y="412" width="1" height="4" fill="#0000ff"/>
<rect x="320" y="415" width="2" height="1" fill="#0000ff"/>
<rect x="322" y="413" width="1" height="3" fill="#0000ff"/>
<rect x="323" y="410" width="1" height="4" fill="#0000ff"/>
<rect x="324" y="410" width="4" height="1" fill="#0000ff"/>
<rect x="328" y="408" width="1" height="3" fill="#0000ff"/>
<rect x="329" y="408" width="1" height="1" fill="#0000ff"/>
<rect x="330" y="406" width="1" height="3" fill="#0000ff"/>
<rect x="331" y="406" width="2" height="1" fill="#0000ff"/>
<rect x="333" y="404" width="1" height="3" fill="#0000ff"/>
<rect x="334" y="404" width="2" height="1" fill="#0000ff"/>
<rect x="336" y="404" width="1" height="2" fill="#0000ff"/>
<rect x="337" y="403" width="1" height="2" fill="#0000ff"/>
<rect x="338" y="403" width="5" height="1" fill="#0000ff"/>
<rect x="343" y="403" width="1" height="2" fill="#0000ff"/>
<rect x="344" y="403" width="3" height="4" fill="#0000ff"/>
<rect x="347" y="403" width="4" height="1" fill="#0000ff"/>
<rect x="351" y="401" width="1" height="3" fill="#0000ff"/>
<rect x="352" y="403" width="5" height="1" fill="#0000ff"/>
<rect x="357" y="403" width="1" height="2" fill="#0000ff"/>
<rect x="358" y="404" width="1" height="1" fill="#0000ff"/>
<rect x="359" y="401" width="1" height="4" fill="#0000ff"/>
<rect x="360" y="401" width="6" height="1" fill="#0000ff"/>
<rect x="366" y="399" width="1" height="3" fill="#0000ff"/>
<rect x="367" y="399" width="1" height="1" fill="#0000ff"/>
<rect x="368" y="397" width="1" height="3" fill="#0000ff"/>
<rect x="369" y="397" width="4" height="1" fill="#0000ff"/>
<rect x="373" y="395" width="2" height="3" fill="#0000ff"/>
<rect x="375" y="397" width="4" height="1" fill="#0000ff"/>
<rect x="379" y="395" width="1" height="3" fill="#0000ff"/>
<rect x="380" y="395" width="21" height="1" fill="#0000ff"/>
<rect x="401" y="393" width="1" height="3" fill="#0000ff"/>
<rect x="402" y="393" width="10" height="1" fill="#0000ff"/>
<rect x="412" y="391" width="1" height="3" fill="#0000ff"/>
<rect x="413" y="391" width="7" height="1" fill="#0000ff"/>
<rect x="420" y="390" width="1" height="2" fill="#0000ff"/>
<rect x="421" y="390" width="6" height="1" fill="#0000ff"/>
<rect x="36" y="416" width="41" height="1" fill="#008000"/>
<rect x="77" y="416" width="1" height="3" fill="#008000"/>
<rect x="78" y="418" width="27" height="1" fill="#008000"/>
<rect x="105" y="416" width="1" height="3" fill="#008000"/>
<rect x="106" y="416" width="52" height="1" fill="#008000"/>
<rect x="158" y="413" width="1" height="4" fill="#008000"/>
<rect x="159" y="413" width="13" height="1" fill="#008000"/>
<rect x="172" y="411" width="1" height="3" fill="#008000"/>
<rect x="173" y="411" width="1" height="1" fill="#008000"/>
<rect x="174" y="411" width="1" height="3" fill="#008000"/>
<rect x="175" y="413" width="1" height="1" fill="#008000"/>
<rect x="176" y="411" width="1" height="3" fill="#008000"/>
<rect x="177" y="411" width="5" height="1" fill="#008000"/>
<rect x="182" y="408" width="3" height="4" fill="#008000"/>
<rect x="185" y="408" width="1" height="1" fill="#008000"/>
<rect x="186" y="408" width="2" height="4" fill="#008000"/>
<rect x="188" y="405" width="1" height="4" fill="#008000"/>
<rect x="189" y="408" width="20" height="1" fill="#008000"/>
<rect x="209" y="405" width="1" height="4" fill="#008000"/>
<rect x="210" y="405" width="4" height="3" fill="#008000"/>
<rect x="214" y="407" width="1" height="2" fill="#008000"/>
<rect x="215" y="408" width="3" height="1" fill="#008000"/>
<rect x="218" y="405" width="1" height="4" fill="#008000"/>
<rect x="219" y="405" width="7" height="3" fill="#008000"/>
<rect x="226" y="407" width="1" height="2" fill="#008000"/>
<rect x="227" y="408" width="1" height="1" fill="#008000"/>
<rect x="228" y="405" width="1" height="4" fill="#008000"/>
<rect x="229" y="405" width="2" height="1" fill="#008000"/>
<rect x="231" y="404" width="1" height="2" fill="#008000"/>
<rect x="232" y="404" width="1" height="1" fill="#008000"/>
<rect x="233" y="404" width="1" height="2" fill="#008000"/>
<rect x="234" y="405" width="10" height="1" fill="#008000"/>
<rect x="244" y="403" width="1" height="3" fill="#008000"/>
<rect x="245" y="403" width="1" height="1" fill="#008000"/>
<rect x="246" y="403" width="1" height="3" fill="#008000"/>
<rect x="247" y="405" width="2" height="1" fill="#008000"/>
<rect x="249" y="403" width="1" height="3" fill="#008000"/>
<rect x="250" y="403" width="5" height="1" fill="#008000"/>
<rect x="255" y="400" width="2" height="4" fill="#008000"/>
<rect x="257" y="403" width="3" height="1" fill="#008000"/>
<rect x="260" y="400" width="1" height="4" fill="#008000"/>
<rect x="261" y="400" width="5" height="1" fill="#008000"/>
<rect x="266" y="400" width="1" height="4" fill="#008000"/>
<rect x="267" y="403" width="6" height="1" fill="#008000"/>
<rect x="273" y="403" width="1" height="3" fill="#008000"/>
<rect x="274" y="405" width="3" height="1" fill="#008000"/>
<rect x="277" y="405" width="1" height="3" fill="#008000"/>
<rect x="278" y="407" width="1" height="1" fill="#008000"/>
<rect x="279" y="405" width="1" height="3" fill="#008000"/>
<rect x="280" y="405" width="11" height="1" fill="#008000"/>
<rect x="291" y="405" width="1" height="2" fill="#008000"/>
<rect x="292" y="406" width="1" height="1" fill="#008000"/>
<rect x="293" y="405" width="1" height="2" fill="#008000"/>
<rect x="294" y="405" width="3" height="1" fill="#008000"/>
<rect x="297" y="403" width="1" height="3" fill="#008000"/>
<rect x="298" y="403" width="9" height="1" fill="#008000"/>
<rect x="307" y="403" width="1" height="3" fill="#008000"/>
<rect x="308" y="405" width="1" height="1" fill="#008000"/>
<rect x="309" y="403" width="1" height="3" fill="#008000"/>
<rect x="310" y="403" width="11" height="1" fill="#008000"/>
<rect x="321" y="400" width="1" height="4" fill="#008000"/>
<rect x="322" y="400" width="5" height="1" fill="#008000"/>
<rect x="327" y="400" width="1" height="4" fill="#008000"/>
<rect x="328" y="403" width="9" height="1" fill="#008000"/>
<rect x="337" y="403" width="1" height="3" fill="#008000"/>
<rect x="338" y="405" width="6" height="1" fill="#008000"/>
<rect x="344" y="403" width="4" height="3" fill="#008000"/>
<rect x="348" y="405" width="18" height="1" fill="#008000"/>
<rect x="366" y="405" width="1" height="4" fill="#008000"/>
<rect x="367" y="408" width="8" height="1" fill="#008000"/>
<rect x="375" y="408" width="1" height="4" fill="#008000"/>
<rect x="376" y="411" width="46" height="1" fill="#008000"/>
<rect x="422" y="411" width="1" height="3" fill="#008000"/>
<rect x="423" y="413" width="4" height="1" fill="#008000"/>
<rect x="36" y="442" width="7" height="1" fill="#ff00ff"/>
<rect x="43" y="440" width="1" height="3" fill="#ff00ff"/>
<rect x="44" y="440" width="5" height="1" fill="#ff00ff"/>
<rect x="49" y="440" width="1" height="3" fill="#ff00ff"/>
<rect x="50" y="442" width="27" height="1" fill="#ff00ff"/>
<rect x="77" y="442" width="1" height="3" fill="#ff00ff"/>
<rect x="78" y="444" width="27" height="1" fill="#ff00ff"/>
<rect x="105" y="442" width="1" height="3" fill="#ff00ff"/>
<rect x="106" y="442" width="48" height="1" fill="#ff00ff"/>
<rect x="154" y="442" width="1" height="2" fill="#ff00ff"/>
<rect x="155" y="443" width="2" height="1" fill="#ff00ff"/>
<rect x="157" y="440" width="1" height="4" fill="#ff00ff"/>
<rect x="158" y="440" width="14" height="1" fill="#ff00ff"/>
<rect x="172" y="439" width="1" height="2" fill="#ff00ff"/>
<rect x="173" y="439" width="1" height="1" fill="#ff00ff"/>
<rect x="174" y="439" width="1" height="4" fill="#ff00ff"/>
<rect x="175" y="442" width="2" height="1" fill="#ff00ff"/>
<rect x="177" y="440" width="1" height="3" fill="#ff00ff"/>
<rect x="178" y="440" width="4" height="1" fill="#ff00ff"/>
<rect x="182" y="438" width="1" height="3" fill="#ff00ff"/>
<rect x="183" y="438" width="1" height="1" fill="#ff00ff"/>
<rect x="184" y="438" width="1" height="6" fill="#ff00ff"/>
<rect x="185" y="443" width="1" height="2" fill="#ff00ff"/>
<rect x="186" y="444" width="1" height="1" fill="#ff00ff"/>
<rect x="187" y="439" width="1" height="6" fill="#ff00ff"/>
<rect x="188" y="439" width="1" height="1" fill="#ff00ff"/>
<rect x="189" y="439" width="1" height="4" fill="#ff00ff"/>
<rect x="190" y="442" width="2" height="1" fill="#ff00ff"/>
<rect x="192" y="440" width="1" height="3" fill="#ff00ff"/>
<rect x="193" y="440" width="2" height="1" fill="#ff00ff"/>
<rect x="195" y="440" width="1" height="5" fill="#ff00ff"/>
<rect x="196" y="441" width="2" height="4" fill="#ff00ff"/>
<rect x="198" y="444" width="3" height="1" fill="#ff00ff"/>
<rect x="201" y="443" width="1" height="2" fill="#ff00ff"/>
<rect x="202" y="442" width="1" height="2" fill="#ff00ff"/>
<rect x="203" y="442" width="2" height="1" fill="#ff00ff"/>
<rect x="205" y="441" width="1" height="2" fill="#ff00ff"/>
<rect x="206" y="442" width="3" height="1" fill="#ff00ff"/>
<rect x="209" y="441" width="1" height="2" fill="#ff00ff"/>
<rect x="210" y="441" width="1" height="1" fill="#ff00ff"/>
<rect x="211" y="441" width="1" height="2" fill="#ff00ff"/>
<rect x="212" y="442" width="1" height="1" fill="#ff00ff"/>
<rect x="213" y="442" width="1" height="3" fill="#ff00ff"/>
<rect x="214" y="444" width="3" height="1" fill="#ff00ff"/>
<rect x="217" y="443" width="1" height="2" fill="#ff00ff"/>
<rect x="218" y="443" width="1" height="1" fill="#ff00ff"/>
<rect x="219" y="442" width="5" height="2" fill="#ff00ff"/>
<rect x="224" y="441" width="1" height="2" fill="#ff00ff"/>
<rect x="225" y="442" width="1" height="3" fill="#ff00ff"/>
<rect x="226" y="444" width="1" height="1" fill="#ff00ff"/>
<rect x="227" y="442" width="1" height="3" fill="#ff00ff"/>
<rect x="228" y="442" width="3" height="1" fill="#ff00ff"/>
<rect x="231" y="442" width="1" height="3" fill="#ff00ff"/>
<rect x="232" y="443" width="2" height="2" fill="#ff00ff"/>
<rect x="234" y="444" width="1" height="3" fill="#ff00ff"/>
<rect x="235" y="445" width="6" height="2" fill="#ff00ff"/>
<rect x="241" y="446" width="1" height="2" fill="#ff00ff"/>
<rect x="242" y="447" width="2" height="1" fill="#ff00ff"/>
<rect x="244" y="444" width="1" height="4" fill="#ff00ff"/>
<rect x="245" y="444" width="1" height="1" fill="#ff00ff"/>
<rect x="246" y="444" width="1" height="5" fill="#ff00ff"/>
<rect x="247" y="448" width="1" height="1" fill="#ff00ff"/>
<rect x="248" y="444" width="2" height="6" fill="#ff00ff"/>
<rect x="250" y="446" width="1" height="1" fill="#ff00ff"/>
<rect x="251" y="446" width="1" height="3" fill="#ff00ff"/>
<rect x="252" y="448" width="3" height="1" fill="#ff00ff"/>
<rect x="255" y="447" width="3" height="2" fill="#ff00ff"/>
<rect x="258" y="446" width="1" height="2" fill="#ff00ff"/>
<rect x="259" y="446" width="1" height="1" fill="#ff00ff"/>
<rect x="260" y="444" width="1" height="3" fill="#ff00ff"/>
<rect x="261" y="444" width="1" height="1" fill="#ff00ff"/>
<rect x="262" y="444" width="1" height="3" fill="#ff00ff"/>
<rect x="263" y="446" width="1" height="1" fill="#ff00ff"/>
<rect x="264" y="442" width="1" height="5" fill="#ff00ff"/>
<rect x="265" y="442" width="1" height="1" fill="#ff00ff"/>
<rect x="266" y="442" width="1" height="5" fill="#ff00ff"/>
<rect x="267" y="444" width="7" height="1" fill="#ff00ff"/>
<rect x="274" y="442" width="3" height="3" fill="#ff00ff"/>
<rect x="277" y="442" width="6" height="1" fill="#ff00ff"/>
<rect x="283" y="439" width="1" height="4" fill="#ff00ff"/>
<rect x="284" y="439" width="3" height="1" fill="#ff00ff"/>
<rect x="287" y="438" width="1" height="2" fill="#ff00ff"/>
<rect x="288" y="438" width="1" height="1" fill="#ff00ff"/>
<rect x="289" y="438" width="1" height="2" fill="#ff00ff"/>
<rect x="290" y="439" width="1" height="1" fill="#ff00ff"/>
<rect x="291" y="439" width="1" height="3" fill="#ff00ff"/>
<rect x="292" y="441" width="1" height="1" fill="#ff00ff"/>
<rect x="293" y="439" width="1" height="3" fill="#ff00ff"/>
<rect x="294" y="441" width="2" height="1" fill="#ff00ff"/>
<rect x="296" y="441" width="1" height="2" fill="#ff00ff"/>
<rect x="297" y="442" width="1" height="1" fill="#ff00ff"/>
<rect x="298" y="439" width="1" height="4" fill="#ff00ff"/>
<rect x="299" y="439" width="1" height="1" fill="#ff00ff"/>
<rect x="300" y="439" width="1" height="3" fill="#ff00ff"/>
<rect x="301" y="441" width="1" height="2" fill="#ff00ff"/>
<rect x="302" y="442" width="2" height="1" fill="#ff00ff"/>
<rect x="304" y="440" width="1" height="3" fill="#ff00ff"/>
<rect x="305" y="440" width="2" height="1" fill="#ff00ff"/>
<rect x="307" y="440" width="1" height="5" fill="#ff00ff"/>
<rect x="308" y="444" width="1" height="1" fill="#ff00ff"/>
<rect x="309" y="440" width="1" height="5" fill="#ff00ff"/>
<rect x="310" y="440" width="1" height="1" fill="#ff00ff"/>
<rect x="311" y="440" width="5" height="3" fill="#ff00ff"/>
<rect x="316" y="442" width="3" height="1" fill="#ff00ff"/>
<rect x="319" y="440" width="2" height="4" fill="#ff00ff"/>
<rect x="321" y="438" width="1" height="3" fill="#ff00ff"/>
<rect x="322" y="438" width="1" height="1" fill="#ff00ff"/>
<rect x="323" y="437" width="1" height="2" fill="#ff00ff"/>
<rect x="324" y="437" width="2" height="1" fill="#ff00ff"/>
<rect x="326" y="437" width="1" height="3" fill="#ff00ff"/>
<rect x="327" y="439" width="2" height="1" fill="#ff00ff"/>
<rect x="329" y="438" width="1" height="2" fill="#ff00ff"/>
<rect x="330" y="438" width="2" height="1" fill="#ff00ff"/>
<rect x="332" y="436" width="1" height="3" fill="#ff00ff"/>
<rect x="333" y="436" width="4" height="1" fill="#ff00ff"/>
<rect x="337" y="436" width="1" height="3" fill="#ff00ff"/>
<rect x="338" y="437" width="4" height="1" fill="#ff00ff"/>
<rect x="342" y="437" width="1" height="2" fill="#ff00ff"/>
<rect x="343" y="438" width="1" height="1" fill="#ff00ff"/>
<rect x="344" y="436" width="1" height="3" fill="#ff00ff"/>
<rect x="345" y="436" width="3" height="2" fill="#ff00ff"/>
<rect x="348" y="437" width="2" height="1" fill="#ff00ff"/>
<rect x="350" y="436" width="1" height="2" fill="#ff00ff"/>
<rect x="351" y="436" width="2" height="1" fill="#ff00ff"/>
<rect x="353" y="436" width="1" height="2" fill="#ff00ff"/>
<rect x="354" y="437" width="2" height="1" fill="#ff00ff"/>
<rect x="356" y="437" width="1" height="2" fill="#ff00ff"/>
<rect x="357" y="438" width="2" height="1" fill="#ff00ff"/>
<rect x="359" y="437" width="1" height="2" fill="#ff00ff"/>
<rect x="360" y="436" width="1" height="2" fill="#ff00ff"/>
<rect x="361" y="436" width="5" height="1" fill="#ff00ff"/>
<rect x="366" y="436" width="1" height="2" fill="#ff00ff"/>
<rect x="367" y="437" width="2" height="1" fill="#ff00ff"/>
<rect x="369" y="436" width="1" height="2" fill="#ff00ff"/>
<rect x="370" y="436" width="3" height="1" fill="#ff00ff"/>
<rect x="373" y="435" width="1" height="2" fill="#ff00ff"/>
<rect x="374" y="436" width="1" height="4" fill="#ff00ff"/>
<rect x="375" y="439" width="4" height="1" fill="#ff00ff"/>
<rect x="379" y="438" width="1" height="2" fill="#ff00ff"/>
<rect x="380" y="438" width="21" height="1" fill="#ff00ff"/>
<rect x="401" y="437" width="1" height="2" fill="#ff00ff"/>
<rect x="402" y="437" width="10" height="1" fill="#ff00ff"/>
<rect x="412" y="436" width="1" height="2" fill="#ff00ff"/>
<rect x="413" y="436" width="7" height="1" fill="#ff00ff"/>
<rect x="420" y="435" width="1" height="2" fill="#ff00ff"/>
<rect x="421" y="435" width="1" height="1" fill="#ff00ff"/>
<rect x="422" y="435" width="1" height="3" fill="#ff00ff"/>
<rect x="423" y="437" width="4" height="1" fill="#ff00ff"/>
<rect x="33" y="335" width="397" height="1" fill="#000000"/>
<rect x="33" y="527" width="397" height="1" fill="#000000"/>
<rect x="33" y="335" width="1" height="193" fill="#000000"/>
<rect x="429" y="335" width="1" height="193" fill="#000000"/>
<rect x="34" y="336" width="1" height="190" fill="#a0a0a0"/>
<rect x="34" y="336" width="395" height="1" fill="#a0a0a0"/>
<rect x="466" y="338" width="10" height="1" fill="#008000"/>
<rect x="471" y="347" width="5" height="1" fill="#008000"/>
<rect x="466" y="357" width="10" height="1" fill="#008000"/>
<rect x="471" y="366" width="5" height="1" fill="#008000"/>
<rect x="466" y="375" width="10" height="1" fill="#008000"/>
<rect x="471" y="384" width="5" height="1" fill="#008000"/>
<rect x="466" y="394" width="10" height="1" fill="#008000"/>
<rect x="471" y="403" width="5" height="1" fill="#008000"/>
<rect x="466" y="412" width="10" height="1" fill="#008000"/>
<rect x="471" y="421" width="5" height="1" fill="#008000"/>
<rect x="466" y="431" width="10" height="1" fill="#008000"/>
<rect x="471" y="440" width="5" height="1" fill="#008000"/>
<rect x="466" y="449" width="10" height="1" fill="#008000"/>
<rect x="471" y="458" width="5" height="1" fill="#008000"/>
<rect x="466" y="468" width="10" height="1" fill="#008000"/>
<rect x="471" y="477" width="5" height="1" fill="#008000"/>
<rect x="466" y="486" width="10" height="1" fill="#008000"/>
<rect x="471" y="495" width="5" height="1" fill="#008000"/>
<rect x="466" y="505" width="10" height="1" fill="#008000"/>
<rect x="471" y="514" width="5" height="1" fill="#008000"/>
<rect x="466" y="523" width="10" height="1" fill="#008000"/>
<polygon points="469.5,338.5 479,333.8 479,343.4" fill="#ff0000" stroke="#000" stroke-width="1"/>
<rect x="426" y="531" width="1" height="5" fill="#0000ff"/>
<g filter="url(#crisp)">
<text x="34" y="10" fill="#ff0000" stroke="#ff0000" stroke-width="0.12" font-size="12" text-anchor="start" textLength="112.5" lengthAdjust="spacingAndGlyphs">Velocitat del vent (kmh)</text>
<text x="171.5" y="10" fill="#000080" stroke="#000080" stroke-width="0.12" font-size="12" text-anchor="start" textLength="156.5" lengthAdjust="spacingAndGlyphs">24 hour graph day : 03 Julio 2021</text>
<text x="371" y="10" fill="#ff00ff" stroke="#ff00ff" stroke-width="0.12" font-size="12" text-anchor="start" textLength="58" lengthAdjust="spacingAndGlyphs">Pressió (mb)</text>
<text x="29" y="19" fill="#ff0000" stroke="#ff0000" stroke-width="0.12" font-size="11" text-anchor="end" textLength="11.4" lengthAdjust="spacingAndGlyphs">50</text>
<text x="29" y="39" fill="#ff0000" stroke="#ff0000" stroke-width="0.12" font-size="11" text-anchor="end" textLength="11.4" lengthAdjust="spacingAndGlyphs">45</text>
<text x="29" y="60" fill="#ff0000" stroke="#ff0000" stroke-width="0.12" font-size="11" text-anchor="end" textLength="11.4" lengthAdjust="spacingAndGlyphs">40</text>
<text x="29" y="80" fill="#ff0000" stroke="#ff0000" stroke-width="0.12" font-size="11" text-anchor="end" textLength="11.4" lengthAdjust="spacingAndGlyphs">35</text>
<text x="29" y="100" fill="#ff0000" stroke="#ff0000" stroke-width="0.12" font-size="11" text-anchor="end" textLength="11.4" lengthAdjust="spacingAndGlyphs">30</text>
<text x="29" y="120" fill="#ff0000" stroke="#ff0000" stroke-width="0.12" font-size="11" text-anchor="end" textLength="11.4" lengthAdjust="spacingAndGlyphs">25</text>
<text x="29" y="141" fill="#ff0000" stroke="#ff0000" stroke-width="0.12" font-size="11" text-anchor="end" textLength="11.4" lengthAdjust="spacingAndGlyphs">20</text>
<text x="29" y="161" fill="#ff0000" stroke="#ff0000" stroke-width="0.12" font-size="11" text-anchor="end" textLength="11.4" lengthAdjust="spacingAndGlyphs">15</text>
<text x="29" y="181" fill="#ff0000" stroke="#ff0000" stroke-width="0.12" font-size="11" text-anchor="end" textLength="11.4" lengthAdjust="spacingAndGlyphs">10</text>
<text x="29" y="202" fill="#ff0000" stroke="#ff0000" stroke-width="0.12" font-size="11" text-anchor="end" textLength="5.7" lengthAdjust="spacingAndGlyphs">5</text>
<text x="29" y="222" fill="#ff0000" stroke="#ff0000" stroke-width="0.12" font-size="11" text-anchor="end" textLength="5.7" lengthAdjust="spacingAndGlyphs">0</text>
<text x="438.5" y="19" fill="#ff00ff" stroke="#ff00ff" stroke-width="0.12" font-size="11" text-anchor="start" textLength="22.8" lengthAdjust="spacingAndGlyphs">1051</text>
<text x="438.5" y="39" fill="#ff00ff" stroke="#ff00ff" stroke-width="0.12" font-size="11" text-anchor="start" textLength="22.8" lengthAdjust="spacingAndGlyphs">1043</text>
<text x="438.5" y="60" fill="#ff00ff" stroke="#ff00ff" stroke-width="0.12" font-size="11" text-anchor="start" textLength="22.8" lengthAdjust="spacingAndGlyphs">1036</text>
<text x="438.5" y="80" fill="#ff00ff" stroke="#ff00ff" stroke-width="0.12" font-size="11" text-anchor="start" textLength="22.8" lengthAdjust="spacingAndGlyphs">1028</text>
<text x="438.5" y="100" fill="#ff00ff" stroke="#ff00ff" stroke-width="0.12" font-size="11" text-anchor="start" textLength="22.8" lengthAdjust="spacingAndGlyphs">1020</text>
<text x="438.5" y="120" fill="#ff00ff" stroke="#ff00ff" stroke-width="0.12" font-size="11" text-anchor="start" textLength="22.8" lengthAdjust="spacingAndGlyphs">1013</text>
<text x="438.5" y="141" fill="#ff00ff" stroke="#ff00ff" stroke-width="0.12" font-size="11" text-anchor="start" textLength="22.8" lengthAdjust="spacingAndGlyphs">1005</text>
<text x="438.5" y="161" fill="#ff00ff" stroke="#ff00ff" stroke-width="0.12" font-size="11" text-anchor="start" textLength="17.1" lengthAdjust="spacingAndGlyphs">998</text>
<text x="438.5" y="181" fill="#ff00ff" stroke="#ff00ff" stroke-width="0.12" font-size="11" text-anchor="start" textLength="17.1" lengthAdjust="spacingAndGlyphs">990</text>
<text x="438.5" y="202" fill="#ff00ff" stroke="#ff00ff" stroke-width="0.12" font-size="11" text-anchor="start" textLength="17.1" lengthAdjust="spacingAndGlyphs">983</text>
<text x="438.5" y="222" fill="#ff00ff" stroke="#ff00ff" stroke-width="0.12" font-size="11" text-anchor="start" textLength="17.1" lengthAdjust="spacingAndGlyphs">975</text>
<text x="62.7" y="231" fill="#0000ff" font-size="9.6" stroke="#0000ff" stroke-width="0.3" textLength="9.8" lengthAdjust="spacingAndGlyphs">02</text>
<text x="95.7" y="231" fill="#0000ff" font-size="9.6" stroke="#0000ff" stroke-width="0.3" textLength="9.8" lengthAdjust="spacingAndGlyphs">04</text>
<text x="128.7" y="231" fill="#0000ff" font-size="9.6" stroke="#0000ff" stroke-width="0.3" textLength="9.8" lengthAdjust="spacingAndGlyphs">06</text>
<text x="161.7" y="231" fill="#0000ff" font-size="9.6" stroke="#0000ff" stroke-width="0.3" textLength="9.8" lengthAdjust="spacingAndGlyphs">08</text>
<text x="194.7" y="231" fill="#0000ff" font-size="9.6" stroke="#0000ff" stroke-width="0.3" textLength="9.8" lengthAdjust="spacingAndGlyphs">10</text>
<text x="227.7" y="231" fill="#0000ff" font-size="9.6" stroke="#0000ff" stroke-width="0.3" textLength="9.8" lengthAdjust="spacingAndGlyphs">12</text>
<text x="260.7" y="231" fill="#0000ff" font-size="9.6" stroke="#0000ff" stroke-width="0.3" textLength="9.8" lengthAdjust="spacingAndGlyphs">14</text>
<text x="293.7" y="231" fill="#0000ff" font-size="9.6" stroke="#0000ff" stroke-width="0.3" textLength="9.8" lengthAdjust="spacingAndGlyphs">16</text>
<text x="326.7" y="231" fill="#0000ff" font-size="9.6" stroke="#0000ff" stroke-width="0.3" textLength="9.8" lengthAdjust="spacingAndGlyphs">18</text>
<text x="359.7" y="231" fill="#0000ff" font-size="9.6" stroke="#0000ff" stroke-width="0.3" textLength="9.8" lengthAdjust="spacingAndGlyphs">20</text>
<text x="392.7" y="231" fill="#0000ff" font-size="9.6" stroke="#0000ff" stroke-width="0.3" textLength="9.8" lengthAdjust="spacingAndGlyphs">22</text>
<text x="128" y="239" fill="#0000ff" font-size="9" stroke="#0000ff" stroke-width="0.25" textLength="27" lengthAdjust="spacingAndGlyphs">sunrise</text>
<text x="23.5" y="249" fill="#ff0000" stroke="#ff0000" stroke-width="0.12" font-size="11" text-anchor="end" textLength="17.1" lengthAdjust="spacingAndGlyphs">360</text>
<text x="23.5" y="266" fill="#ff0000" stroke="#ff0000" stroke-width="0.12" font-size="11" text-anchor="end" textLength="17.1" lengthAdjust="spacingAndGlyphs">270</text>
<text x="23.5" y="282" fill="#ff0000" stroke="#ff0000" stroke-width="0.12" font-size="11" text-anchor="end" textLength="17.1" lengthAdjust="spacingAndGlyphs">180</text>
<text x="23.5" y="298" fill="#ff0000" stroke="#ff0000" stroke-width="0.12" font-size="11" text-anchor="end" textLength="11.4" lengthAdjust="spacingAndGlyphs">90</text>
<text x="23.5" y="315" fill="#ff0000" stroke="#ff0000" stroke-width="0.12" font-size="11" text-anchor="end" textLength="5.7" lengthAdjust="spacingAndGlyphs">0</text>
<text x="435" y="249" fill="#ff0000" stroke="#ff0000" stroke-width="0.12" font-size="11" text-anchor="start">N</text>
<text x="435" y="265" fill="#ff0000" stroke="#ff0000" stroke-width="0.12" font-size="11" text-anchor="start">W</text>
<text x="435" y="282" fill="#ff0000" stroke="#ff0000" stroke-width="0.12" font-size="11" text-anchor="start">S</text>
<text x="435" y="299" fill="#ff0000" stroke="#ff0000" stroke-width="0.12" font-size="11" text-anchor="start">E</text>
<text x="435" y="315" fill="#ff0000" stroke="#ff0000" stroke-width="0.12" font-size="11" text-anchor="start">N</text>
<text x="0.3" y="331" fill="#ff0000" stroke="#ff0000" stroke-width="0.12" font-size="12" text-anchor="start" textLength="49" lengthAdjust="spacingAndGlyphs">Pluja (mm)</text>
<text x="66" y="331" fill="#0000ff" stroke="#0000ff" stroke-width="0.12" font-size="12" text-anchor="start" textLength="37" lengthAdjust="spacingAndGlyphs">Humitat</text>
<text x="313" y="331" fill="#008000" stroke="#008000" stroke-width="0.12" font-size="12" text-anchor="start" textLength="79.5" lengthAdjust="spacingAndGlyphs">Temperatura (°C)</text>
<text x="392.5" y="331" fill="#ff00ff" stroke="#ff00ff" stroke-width="0.12" font-size="12" text-anchor="start" textLength="57" lengthAdjust="spacingAndGlyphs">Punt rosada</text>
<text x="3" y="343" fill="#0000ff" stroke="#0000ff" stroke-width="0.12" font-size="11" text-anchor="start" textLength="17.1" lengthAdjust="spacingAndGlyphs">100</text>
<text x="31" y="343" fill="#ff0000" stroke="#ff0000" stroke-width="0.12" font-size="11" text-anchor="end" textLength="11.4" lengthAdjust="spacingAndGlyphs">30</text>
<text x="3" y="361" fill="#0000ff" stroke="#0000ff" stroke-width="0.12" font-size="11" text-anchor="start" textLength="11.4" lengthAdjust="spacingAndGlyphs">90</text>
<text x="31" y="361" fill="#ff0000" stroke="#ff0000" stroke-width="0.12" font-size="11" text-anchor="end" textLength="11.4" lengthAdjust="spacingAndGlyphs">27</text>
<text x="3" y="380" fill="#0000ff" stroke="#0000ff" stroke-width="0.12" font-size="11" text-anchor="start" textLength="11.4" lengthAdjust="spacingAndGlyphs">80</text>
<text x="31" y="380" fill="#ff0000" stroke="#ff0000" stroke-width="0.12" font-size="11" text-anchor="end" textLength="11.4" lengthAdjust="spacingAndGlyphs">24</text>
<text x="3" y="398" fill="#0000ff" stroke="#0000ff" stroke-width="0.12" font-size="11" text-anchor="start" textLength="11.4" lengthAdjust="spacingAndGlyphs">70</text>
<text x="31" y="398" fill="#ff0000" stroke="#ff0000" stroke-width="0.12" font-size="11" text-anchor="end" textLength="11.4" lengthAdjust="spacingAndGlyphs">21</text>
<text x="3" y="417" fill="#0000ff" stroke="#0000ff" stroke-width="0.12" font-size="11" text-anchor="start" textLength="11.4" lengthAdjust="spacingAndGlyphs">60</text>
<text x="31" y="417" fill="#ff0000" stroke="#ff0000" stroke-width="0.12" font-size="11" text-anchor="end" textLength="11.4" lengthAdjust="spacingAndGlyphs">18</text>
<text x="3" y="435" fill="#0000ff" stroke="#0000ff" stroke-width="0.12" font-size="11" text-anchor="start" textLength="11.4" lengthAdjust="spacingAndGlyphs">50</text>
<text x="31" y="435" fill="#ff0000" stroke="#ff0000" stroke-width="0.12" font-size="11" text-anchor="end" textLength="11.4" lengthAdjust="spacingAndGlyphs">15</text>
<text x="3" y="453" fill="#0000ff" stroke="#0000ff" stroke-width="0.12" font-size="11" text-anchor="start" textLength="11.4" lengthAdjust="spacingAndGlyphs">40</text>
<text x="31" y="453" fill="#ff0000" stroke="#ff0000" stroke-width="0.12" font-size="11" text-anchor="end" textLength="11.4" lengthAdjust="spacingAndGlyphs">12</text>
<text x="3" y="472" fill="#0000ff" stroke="#0000ff" stroke-width="0.12" font-size="11" text-anchor="start" textLength="11.4" lengthAdjust="spacingAndGlyphs">30</text>
<text x="31" y="472" fill="#ff0000" stroke="#ff0000" stroke-width="0.12" font-size="11" text-anchor="end" textLength="5.7" lengthAdjust="spacingAndGlyphs">9</text>
<text x="3" y="490" fill="#0000ff" stroke="#0000ff" stroke-width="0.12" font-size="11" text-anchor="start" textLength="11.4" lengthAdjust="spacingAndGlyphs">20</text>
<text x="31" y="490" fill="#ff0000" stroke="#ff0000" stroke-width="0.12" font-size="11" text-anchor="end" textLength="5.7" lengthAdjust="spacingAndGlyphs">6</text>
<text x="3" y="509" fill="#0000ff" stroke="#0000ff" stroke-width="0.12" font-size="11" text-anchor="start" textLength="11.4" lengthAdjust="spacingAndGlyphs">10</text>
<text x="31" y="509" fill="#ff0000" stroke="#ff0000" stroke-width="0.12" font-size="11" text-anchor="end" textLength="5.7" lengthAdjust="spacingAndGlyphs">3</text>
<text x="3" y="527" fill="#0000ff" stroke="#0000ff" stroke-width="0.12" font-size="11" text-anchor="start" textLength="5.7" lengthAdjust="spacingAndGlyphs">0</text>
<text x="31" y="527" fill="#ff0000" stroke="#ff0000" stroke-width="0.12" font-size="11" text-anchor="end" textLength="5.7" lengthAdjust="spacingAndGlyphs">0</text>
<text x="462" y="342" fill="#008000" stroke="#008000" stroke-width="0.12" font-size="11" text-anchor="end" textLength="11.4" lengthAdjust="spacingAndGlyphs">40</text>
<text x="462" y="361" fill="#008000" stroke="#008000" stroke-width="0.12" font-size="11" text-anchor="end" textLength="11.4" lengthAdjust="spacingAndGlyphs">36</text>
<text x="462" y="379" fill="#008000" stroke="#008000" stroke-width="0.12" font-size="11" text-anchor="end" textLength="11.4" lengthAdjust="spacingAndGlyphs">32</text>
<text x="462" y="398" fill="#008000" stroke="#008000" stroke-width="0.12" font-size="11" text-anchor="end" textLength="11.4" lengthAdjust="spacingAndGlyphs">28</text>
<text x="462" y="416" fill="#008000" stroke="#008000" stroke-width="0.12" font-size="11" text-anchor="end" textLength="11.4" lengthAdjust="spacingAndGlyphs">24</text>
<text x="462" y="435" fill="#008000" stroke="#008000" stroke-width="0.12" font-size="11" text-anchor="end" textLength="11.4" lengthAdjust="spacingAndGlyphs">20</text>
<text x="462" y="453" fill="#008000" stroke="#008000" stroke-width="0.12" font-size="11" text-anchor="end" textLength="11.4" lengthAdjust="spacingAndGlyphs">16</text>
<text x="462" y="472" fill="#008000" stroke="#008000" stroke-width="0.12" font-size="11" text-anchor="end" textLength="11.4" lengthAdjust="spacingAndGlyphs">12</text>
<text x="462" y="490" fill="#008000" stroke="#008000" stroke-width="0.12" font-size="11" text-anchor="end" textLength="5.7" lengthAdjust="spacingAndGlyphs">8</text>
<text x="462" y="509" fill="#008000" stroke="#008000" stroke-width="0.12" font-size="11" text-anchor="end" textLength="5.7" lengthAdjust="spacingAndGlyphs">4</text>
<text x="462" y="527" fill="#008000" stroke="#008000" stroke-width="0.12" font-size="11" text-anchor="end" textLength="5.7" lengthAdjust="spacingAndGlyphs">0</text>
<text x="61.7" y="537" fill="#0000ff" font-size="9.6" stroke="#0000ff" stroke-width="0.3" textLength="9.8" lengthAdjust="spacingAndGlyphs">02</text>
<text x="94.7" y="537" fill="#0000ff" font-size="9.6" stroke="#0000ff" stroke-width="0.3" textLength="9.8" lengthAdjust="spacingAndGlyphs">04</text>
<text x="127.7" y="537" fill="#0000ff" font-size="9.6" stroke="#0000ff" stroke-width="0.3" textLength="9.8" lengthAdjust="spacingAndGlyphs">06</text>
<text x="160.7" y="537" fill="#0000ff" font-size="9.6" stroke="#0000ff" stroke-width="0.3" textLength="9.8" lengthAdjust="spacingAndGlyphs">08</text>
<text x="193.7" y="537" fill="#0000ff" font-size="9.6" stroke="#0000ff" stroke-width="0.3" textLength="9.8" lengthAdjust="spacingAndGlyphs">10</text>
<text x="226.7" y="537" fill="#0000ff" font-size="9.6" stroke="#0000ff" stroke-width="0.3" textLength="9.8" lengthAdjust="spacingAndGlyphs">12</text>
<text x="259.7" y="537" fill="#0000ff" font-size="9.6" stroke="#0000ff" stroke-width="0.3" textLength="9.8" lengthAdjust="spacingAndGlyphs">14</text>
<text x="292.7" y="537" fill="#0000ff" font-size="9.6" stroke="#0000ff" stroke-width="0.3" textLength="9.8" lengthAdjust="spacingAndGlyphs">16</text>
<text x="325.7" y="537" fill="#0000ff" font-size="9.6" stroke="#0000ff" stroke-width="0.3" textLength="9.8" lengthAdjust="spacingAndGlyphs">18</text>
<text x="358.7" y="537" fill="#0000ff" font-size="9.6" stroke="#0000ff" stroke-width="0.3" textLength="9.8" lengthAdjust="spacingAndGlyphs">20</text>
<text x="391.7" y="537" fill="#0000ff" font-size="9.6" stroke="#0000ff" stroke-width="0.3" textLength="9.8" lengthAdjust="spacingAndGlyphs">22</text>
<text x="127" y="545" fill="#0000ff" font-size="9" stroke="#0000ff" stroke-width="0.25" textLength="27" lengthAdjust="spacingAndGlyphs">sunrise</text>
</g>
</svg>
</body></html>
